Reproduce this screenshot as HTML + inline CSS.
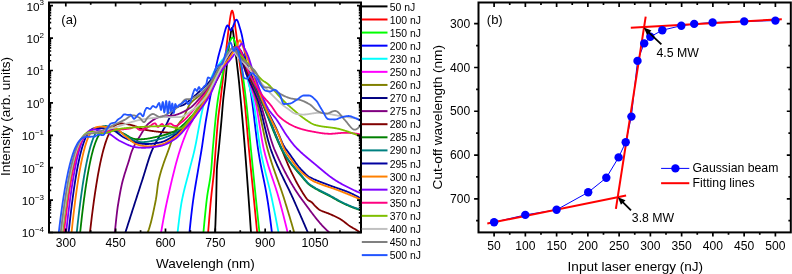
<!DOCTYPE html>
<html><head><meta charset="utf-8"><style>html,body{margin:0;padding:0;background:#fff;overflow:hidden}svg{display:block}#w{width:792px;height:274px;will-change:transform}</style></head><body><div id="w">
<svg width="792" height="274" viewBox="0 0 792 274">
<rect width="792" height="274" fill="#fff"/>
<defs><clipPath id="cl"><rect x="49.0" y="2.5" width="312.0" height="230.0"/></clipPath></defs>
<g clip-path="url(#cl)" fill="none" stroke-width="1.8" stroke-linejoin="round" stroke-linecap="round">
<path d="M214.90,234.00L215.40,224.85L215.90,210.17L216.20,200.00L216.40,189.88L216.80,170.00L216.90,168.42L217.40,162.06L217.90,157.32L218.40,152.96L218.70,150.00L218.90,147.87L219.40,142.57L219.90,137.29L220.40,131.98L220.90,126.61L221.40,121.12L221.50,120.00L221.90,115.32L222.40,109.18L222.90,103.24L223.20,100.00L223.40,98.02L223.90,93.58L224.40,89.51L224.90,85.45L225.40,80.98L225.50,80.00L225.90,75.72L226.40,69.87L226.90,64.10L227.30,60.00L227.40,59.07L227.90,54.59L228.40,50.37L228.90,46.42L229.40,42.74L229.80,40.00L229.90,39.32L230.40,35.74L230.90,32.26L231.40,29.49L231.90,28.07L232.00,28.00L232.40,28.54L232.90,30.71L233.40,33.99L233.90,37.76L234.20,40.00L234.40,41.50L234.90,45.60L235.40,50.04L235.90,54.62L236.40,59.12L236.50,60.00L236.90,63.43L237.40,67.66L237.90,71.91L238.40,76.31L238.80,80.00L238.90,80.96L239.40,85.99L239.90,91.30L240.40,96.74L240.70,100.00L240.90,102.17L241.40,107.63L241.90,113.19L242.40,118.85L242.50,120.00L242.90,124.63L243.40,130.49L243.90,136.46L244.40,142.53L244.90,148.74L245.00,150.00L245.40,155.10L245.90,161.61L246.40,168.24L246.90,174.97L247.40,181.77L247.90,188.63L248.00,190.00L248.40,195.52L248.90,202.49L249.40,209.54L249.90,216.66L250.40,223.84L250.90,231.08L251.10,234.00" stroke="#000000"/>
<path d="M208.00,234.00L208.50,227.71L209.00,221.58L209.50,215.63L210.00,209.86L210.50,204.29L210.90,200.00L211.00,198.96L211.50,194.08L212.00,189.61L212.50,185.30L213.00,180.93L213.50,176.28L214.00,171.11L214.10,170.00L214.50,165.07L215.00,158.20L215.50,151.31L215.60,150.00L216.00,144.74L216.50,138.03L217.00,131.48L217.50,125.37L218.00,120.00L218.50,115.46L219.00,111.46L219.50,107.73L220.00,104.00L220.50,100.00L221.00,95.76L221.50,91.47L222.00,87.15L222.50,82.80L223.00,78.43L223.50,74.05L224.00,69.66L224.50,65.26L225.00,60.88L225.10,60.00L225.50,56.42L226.00,51.81L226.50,47.13L227.00,42.50L227.50,38.03L228.00,33.83L228.50,30.00L229.00,26.32L229.50,22.62L230.00,19.10L230.50,15.95L231.00,13.37L231.50,11.56L232.00,10.72L232.20,10.70L232.50,11.03L233.00,12.45L233.50,14.75L234.00,17.74L234.50,21.18L235.00,24.86L235.50,28.56L235.70,30.00L236.00,32.19L236.50,36.10L237.00,40.24L237.50,44.54L238.00,48.91L238.50,53.27L239.00,57.53L239.30,60.00L239.50,61.61L240.00,65.52L240.50,69.32L241.00,73.05L241.50,76.75L242.00,80.46L242.50,84.24L243.00,88.13L243.50,92.18L244.00,96.43L244.40,100.00L244.50,100.92L245.00,105.77L245.50,110.96L246.00,116.39L246.50,122.01L247.00,127.72L247.50,133.45L248.00,139.13L248.50,144.67L249.00,150.00L249.50,155.14L250.00,160.20L250.50,165.19L251.00,170.14L251.50,175.07L252.00,180.01L252.50,184.98L253.00,190.00L253.50,195.07L254.00,200.15L254.50,205.24L255.00,210.34L255.50,215.46L256.00,220.59L256.50,225.74L257.00,230.90L257.30,234.00" stroke="#ff0000"/>
<path d="M203.30,234.00L203.80,228.43L204.30,223.03L204.80,217.81L205.30,212.80L205.80,208.00L206.30,203.45L206.70,200.00L206.80,199.17L207.30,195.41L207.80,192.16L208.30,189.23L208.80,186.47L209.30,183.70L209.80,180.74L210.30,177.42L210.80,173.57L211.20,170.00L211.30,168.98L211.80,162.52L212.30,155.19L212.70,150.00L212.80,148.87L213.30,143.23L213.80,137.62L214.30,132.09L214.80,126.70L215.30,121.50L215.80,116.53L216.30,111.84L216.80,107.49L217.30,103.53L217.80,100.00L218.30,96.85L218.80,93.93L219.30,91.20L219.80,88.60L220.30,86.08L220.80,83.57L221.30,81.04L221.50,80.00L221.80,78.43L222.30,75.78L222.80,73.13L223.30,70.50L223.80,67.91L224.30,65.39L224.80,62.95L225.00,62.00L225.30,60.59L225.80,58.22L226.30,55.88L226.80,53.58L227.30,51.37L227.80,49.29L228.30,47.36L228.80,45.63L229.00,45.00L229.30,44.07L229.80,42.53L230.30,41.05L230.80,39.72L231.30,38.63L231.80,37.87L232.30,37.51L232.50,37.50L232.80,37.63L233.30,38.19L233.80,39.10L234.30,40.27L234.80,41.61L235.30,43.03L235.80,44.45L236.00,45.00L236.30,45.83L236.80,47.33L237.30,48.96L237.80,50.71L238.30,52.58L238.80,54.56L239.30,56.64L239.80,58.81L240.30,61.07L240.50,62.00L240.80,63.45L241.30,66.08L241.80,68.95L242.30,72.05L242.80,75.35L243.30,78.84L243.80,82.49L244.30,86.29L244.80,90.21L245.30,94.23L245.80,98.34L246.00,100.00L246.30,102.56L246.80,107.06L247.30,111.81L247.80,116.77L248.30,121.88L248.80,127.09L249.30,132.36L249.80,137.63L250.30,142.86L250.80,147.99L251.00,150.00L251.30,153.00L251.80,158.03L252.30,163.06L252.80,168.10L253.30,173.12L253.80,178.13L254.30,183.10L254.80,188.04L255.00,190.00L255.30,192.93L255.80,197.80L256.30,202.64L256.80,207.46L257.30,212.25L257.80,217.03L258.30,221.77L258.80,226.50L259.30,231.19L259.60,234.00" stroke="#00ff00"/>
<path d="M189.30,234.00L189.80,229.15L190.30,224.38L190.80,219.72L191.30,215.21L191.80,210.87L192.30,206.76L192.80,202.89L193.20,200.00L193.30,199.31L193.80,195.92L194.30,192.67L194.80,189.53L195.30,186.48L195.80,183.50L196.30,180.56L196.80,177.64L197.30,174.73L197.80,171.78L198.10,170.00L198.30,168.81L198.80,165.88L199.30,162.99L199.80,160.11L200.30,157.21L200.80,154.27L201.30,151.24L201.50,150.00L201.80,148.10L202.30,144.81L202.80,141.41L203.30,137.95L203.80,134.47L204.30,131.01L204.80,127.62L205.30,124.33L205.80,121.20L206.00,120.00L206.30,118.24L206.80,115.37L207.30,112.56L207.80,109.81L208.30,107.12L208.80,104.47L209.30,101.86L209.80,99.27L210.30,96.70L210.80,94.14L211.30,91.59L211.80,89.03L212.00,88.00L212.30,86.45L212.80,83.84L213.30,81.22L213.80,78.59L214.30,75.96L214.80,73.36L215.30,70.79L215.80,68.26L216.30,65.79L216.80,63.39L217.30,61.08L217.80,58.86L218.00,58.00L218.30,56.75L218.80,54.76L219.30,52.86L219.80,51.02L220.30,49.24L220.80,47.48L221.30,45.71L221.50,45.00L221.80,43.90L222.30,41.94L222.80,39.89L223.30,37.78L223.80,35.67L224.30,33.62L224.80,31.68L225.30,29.90L225.80,28.33L226.30,27.02L226.80,26.03L227.20,25.50L227.30,25.42L227.80,25.44L228.30,26.06L228.80,27.04L229.30,28.19L229.80,29.28L230.30,30.11L230.80,30.45L231.00,30.40L231.30,30.16L231.80,29.46L232.30,28.46L232.80,27.23L233.30,25.87L233.80,24.46L234.30,23.09L234.80,21.84L235.30,20.81L235.80,20.06L236.30,19.70L236.80,19.82L237.30,20.42L237.80,21.42L238.30,22.72L238.80,24.25L239.30,25.92L239.80,27.65L240.30,29.35L240.50,30.00L240.80,31.01L241.30,32.91L241.80,35.05L242.30,37.40L242.80,39.96L243.30,42.70L243.70,45.00L243.80,45.60L244.30,48.93L244.80,52.68L245.30,56.69L245.80,60.79L246.30,64.82L246.80,68.60L247.00,70.00L247.30,72.01L247.80,75.21L248.30,78.25L248.80,81.18L249.30,84.06L249.80,86.92L250.30,89.83L250.80,92.83L251.30,95.98L251.80,99.31L251.90,100.00L252.30,102.87L252.80,106.66L253.30,110.62L253.80,114.72L254.30,118.91L254.80,123.16L255.30,127.41L255.80,131.62L256.30,135.76L256.80,139.77L257.30,143.62L257.80,147.26L258.20,150.00L258.30,150.66L258.80,153.85L259.30,156.87L259.80,159.75L260.30,162.51L260.80,165.17L261.30,167.73L261.80,170.23L262.30,172.69L262.80,175.11L263.30,177.52L263.80,179.94L264.30,182.39L264.80,184.89L265.30,187.45L265.80,190.10L266.30,192.86L266.80,195.73L267.30,198.75L267.50,200.00L267.80,201.92L268.30,205.24L268.80,208.68L269.30,212.24L269.80,215.92L270.30,219.70L270.80,223.57L271.30,227.52L271.80,231.55L272.10,234.00" stroke="#0000ff"/>
<path d="M177.40,234.00L177.90,229.70L178.40,225.44L178.90,221.26L179.40,217.21L179.90,213.33L180.40,209.68L180.90,206.29L181.40,203.22L181.90,200.50L182.00,200.00L182.40,198.08L182.90,195.77L183.40,193.54L183.90,191.39L184.40,189.32L184.90,187.29L185.40,185.32L185.90,183.38L186.40,181.47L186.90,179.58L187.40,177.69L187.90,175.80L188.40,173.90L188.90,171.97L189.40,170.00L189.90,168.04L190.40,166.13L190.90,164.24L191.40,162.36L191.90,160.48L192.40,158.58L192.90,156.65L193.40,154.65L193.90,152.59L194.40,150.44L194.50,150.00L194.90,148.18L195.40,145.80L195.90,143.31L196.40,140.74L196.90,138.10L197.40,135.41L197.90,132.69L198.40,129.96L198.90,127.25L199.40,124.56L199.90,121.91L200.40,119.34L200.90,116.85L201.40,114.46L201.50,114.00L201.90,112.16L202.40,109.88L202.90,107.61L203.40,105.39L203.90,103.21L204.40,101.08L204.90,99.02L205.40,97.04L205.90,95.15L206.40,93.36L206.80,92.00L206.90,91.67L207.40,90.02L207.90,88.38L208.40,86.76L208.90,85.17L209.40,83.60L209.90,82.08L210.40,80.60L210.90,79.17L211.40,77.81L211.90,76.52L212.40,75.30L212.90,74.16L213.40,73.12L213.90,72.18L214.00,72.00L214.40,71.31L214.90,70.47L215.40,69.65L215.90,68.85L216.40,68.07L216.90,67.31L217.40,66.56L217.90,65.84L218.40,65.13L218.90,64.43L219.40,63.75L219.90,63.09L220.40,62.43L220.90,61.79L221.40,61.16L221.90,60.53L222.40,59.92L222.90,59.31L223.40,58.71L223.90,58.12L224.00,58.00L224.40,57.52L224.90,56.92L225.40,56.31L225.90,55.69L226.40,55.08L226.90,54.47L227.40,53.86L227.90,53.26L228.40,52.68L228.90,52.11L229.40,51.56L229.90,51.03L230.40,50.53L230.90,50.06L231.40,49.62L231.90,49.22L232.40,48.86L232.90,48.54L233.40,48.26L233.90,48.04L234.00,48.00L234.40,47.90L234.90,47.91L235.40,48.07L235.90,48.37L236.40,48.79L236.90,49.33L237.40,49.98L237.90,50.73L238.40,51.57L238.90,52.49L239.40,53.49L239.90,54.55L240.40,55.67L240.90,56.83L241.40,58.03L241.90,59.25L242.40,60.50L242.90,61.75L243.00,62.00L243.40,63.07L243.90,64.60L244.40,66.29L244.90,68.14L245.40,70.10L245.90,72.14L246.40,74.24L246.90,76.38L247.40,78.51L247.90,80.61L248.40,82.66L248.90,84.62L249.00,85.00L249.40,86.46L249.90,88.20L250.40,89.87L250.90,91.53L251.40,93.23L251.90,95.02L252.40,96.96L252.90,99.08L253.10,100.00L253.40,101.47L253.90,104.20L254.40,107.23L254.90,110.51L255.40,114.00L255.90,117.64L256.40,121.40L256.90,125.21L257.40,129.03L257.90,132.82L258.40,136.51L258.90,140.08L259.40,143.46L259.90,146.60L260.40,149.47L260.50,150.00L260.90,152.08L261.40,154.59L261.90,157.02L262.40,159.37L262.90,161.64L263.40,163.85L263.90,166.00L264.40,168.10L264.90,170.16L265.40,172.19L265.90,174.20L266.40,176.18L266.90,178.15L267.40,180.13L267.90,182.10L268.40,184.09L268.90,186.11L269.40,188.15L269.90,190.22L270.40,192.35L270.90,194.52L271.40,196.76L271.90,199.06L272.10,200.00L272.40,201.43L272.90,203.82L273.40,206.25L273.90,208.69L274.40,211.17L274.90,213.66L275.40,216.19L275.90,218.73L276.40,221.30L276.90,223.90L277.40,226.52L277.90,229.17L278.40,231.84L278.80,234.00" stroke="#00ffff"/>
<path d="M160.80,234.00L161.30,231.13L161.80,228.29L162.30,225.47L162.80,222.69L163.30,219.96L163.80,217.26L164.30,214.61L164.80,212.02L165.30,209.48L165.80,207.01L166.30,204.60L166.80,202.26L167.30,200.00L167.80,197.78L168.30,195.57L168.80,193.36L169.30,191.17L169.80,188.99L170.30,186.82L170.80,184.67L171.30,182.53L171.80,180.41L172.30,178.32L172.80,176.24L173.30,174.20L173.80,172.17L174.30,170.18L174.80,168.22L175.30,166.28L175.80,164.38L176.30,162.52L176.80,160.69L177.30,158.90L177.80,157.16L178.30,155.45L178.80,153.79L179.30,152.18L179.80,150.61L180.00,150.00L180.30,149.09L180.80,147.60L181.30,146.13L181.80,144.68L182.30,143.26L182.80,141.87L183.30,140.50L183.80,139.16L184.30,137.85L184.80,136.57L185.30,135.31L185.80,134.09L186.30,132.89L186.80,131.72L187.30,130.59L187.80,129.48L188.30,128.41L188.40,128.20L188.80,127.38L189.30,126.39L189.80,125.44L190.30,124.51L190.80,123.59L191.30,122.68L191.80,121.76L192.20,121.00L192.30,120.81L192.80,119.85L193.30,118.89L193.80,117.93L194.30,116.97L194.80,116.01L195.30,115.04L195.80,114.08L196.30,113.11L196.80,112.15L197.30,111.19L197.80,110.22L198.30,109.26L198.80,108.30L199.30,107.34L199.80,106.38L200.00,106.00L200.30,105.43L200.80,104.47L201.30,103.51L201.80,102.55L202.30,101.58L202.80,100.62L203.30,99.66L203.80,98.70L204.30,97.73L204.80,96.78L205.30,95.82L205.80,94.86L206.30,93.91L206.80,92.96L207.30,92.02L207.80,91.08L208.30,90.14L208.80,89.21L209.30,88.28L209.80,87.37L210.00,87.00L210.30,86.45L210.80,85.54L211.30,84.63L211.80,83.72L212.30,82.82L212.80,81.92L213.30,81.02L213.80,80.12L214.30,79.22L214.80,78.33L215.30,77.44L215.80,76.56L216.30,75.68L216.80,74.80L217.30,73.93L217.80,73.07L218.30,72.20L218.80,71.35L219.30,70.50L219.80,69.65L220.30,68.81L220.80,67.98L221.30,67.15L221.80,66.33L222.00,66.00L222.30,65.51L222.80,64.66L223.30,63.78L223.80,62.89L224.30,61.97L224.80,61.05L225.30,60.12L225.80,59.18L226.30,58.25L226.80,57.33L227.30,56.41L227.80,55.51L228.30,54.63L228.80,53.78L229.30,52.95L229.80,52.16L230.30,51.41L230.80,50.70L231.30,50.04L231.80,49.43L232.30,48.87L232.80,48.38L233.30,47.96L233.80,47.60L234.30,47.32L234.80,47.12L235.30,47.01L235.80,46.98L236.00,47.00L236.30,47.08L236.80,47.41L237.30,47.97L237.80,48.74L238.30,49.69L238.80,50.81L239.30,52.07L239.80,53.45L240.30,54.94L240.80,56.51L241.30,58.13L241.80,59.80L242.30,61.48L242.80,63.16L243.30,64.82L243.80,66.44L244.30,67.98L244.80,69.44L245.00,70.00L245.30,70.82L245.80,72.17L246.30,73.51L246.80,74.86L247.30,76.20L247.80,77.54L248.30,78.90L248.80,80.27L249.30,81.65L249.80,83.06L250.30,84.49L250.80,85.95L251.30,87.45L251.80,88.99L252.30,90.56L252.80,92.19L253.30,93.86L253.80,95.59L254.30,97.39L254.80,99.24L255.00,100.00L255.30,101.20L255.80,103.39L256.30,105.81L256.80,108.42L257.30,111.20L257.80,114.11L258.30,117.13L258.80,120.23L259.30,123.38L259.80,126.55L260.30,129.71L260.80,132.84L261.30,135.89L261.80,138.85L262.30,141.69L262.80,144.37L263.30,146.87L263.80,149.15L264.00,150.00L264.30,151.23L264.80,153.23L265.30,155.16L265.80,157.04L266.30,158.86L266.80,160.63L267.30,162.35L267.80,164.03L268.30,165.67L268.80,167.28L269.30,168.86L269.80,170.40L270.30,171.93L270.80,173.43L271.30,174.93L271.80,176.41L272.30,177.88L272.80,179.35L273.30,180.82L273.80,182.30L274.30,183.78L274.80,185.28L275.30,186.79L275.80,188.33L276.30,189.89L276.80,191.48L277.30,193.10L277.80,194.76L278.30,196.46L278.80,198.21L279.30,200.00L279.80,201.83L280.30,203.67L280.80,205.53L281.30,207.40L281.80,209.29L282.30,211.19L282.80,213.11L283.30,215.04L283.80,216.99L284.30,218.96L284.80,220.94L285.30,222.94L285.80,224.95L286.30,226.98L286.80,229.02L287.30,231.09L287.80,233.16L288.00,234.00" stroke="#ff00ff"/>
<path d="M146.90,234.00L147.40,233.06L147.90,231.96L148.40,230.70L148.90,229.30L149.40,227.76L149.90,226.10L150.40,224.32L150.90,222.43L151.40,220.44L151.90,218.36L152.40,216.19L152.90,213.95L153.40,211.65L153.90,209.30L154.40,206.90L154.90,204.46L155.40,201.99L155.80,200.00L155.90,199.48L156.40,196.31L156.90,192.51L157.40,188.48L157.90,184.66L158.40,181.45L158.70,180.00L158.90,179.18L159.40,177.20L159.90,175.31L160.40,173.49L160.90,171.75L161.40,170.08L161.90,168.47L162.40,166.92L162.90,165.41L163.40,163.95L163.90,162.52L164.40,161.12L164.90,159.75L165.40,158.39L165.90,157.05L166.40,155.71L166.90,154.37L167.40,153.02L167.90,151.66L168.40,150.28L168.50,150.00L168.90,148.87L169.40,147.44L169.90,145.99L170.40,144.53L170.90,143.05L171.40,141.58L171.90,140.11L172.40,138.66L172.90,137.22L173.40,135.80L173.90,134.41L174.40,133.06L174.90,131.75L175.40,130.48L175.90,129.27L176.40,128.11L176.90,127.02L177.40,126.00L177.90,125.07L178.40,124.24L178.90,123.49L179.40,122.80L179.90,122.16L180.40,121.55L180.90,120.95L181.40,120.35L181.90,119.73L182.40,119.07L182.90,118.36L183.40,117.58L183.80,116.90L183.90,116.72L184.40,115.75L184.90,114.70L185.40,113.59L185.90,112.43L186.40,111.25L186.90,110.07L187.40,108.90L187.90,107.78L188.40,106.72L188.90,105.75L189.40,104.88L189.90,104.13L190.00,104.00L190.40,103.50L190.90,102.91L191.40,102.35L191.90,101.84L192.40,101.35L192.90,100.89L193.40,100.45L193.90,100.03L194.40,99.63L194.90,99.23L195.40,98.85L195.90,98.47L196.40,98.09L196.90,97.70L197.40,97.31L197.90,96.91L198.40,96.49L198.90,96.05L199.40,95.59L199.90,95.10L200.00,95.00L200.40,94.59L200.90,94.09L201.40,93.58L201.90,93.07L202.40,92.56L202.90,92.05L203.40,91.53L203.90,91.01L204.40,90.48L204.90,89.95L205.40,89.42L205.90,88.87L206.40,88.32L206.90,87.75L207.40,87.18L207.90,86.59L208.40,86.00L208.90,85.39L209.40,84.77L209.90,84.13L210.00,84.00L210.40,83.47L210.90,82.77L211.40,82.05L211.90,81.29L212.40,80.51L212.90,79.70L213.40,78.88L213.90,78.04L214.40,77.19L214.90,76.34L215.40,75.48L215.90,74.62L216.40,73.76L216.90,72.91L217.40,72.07L217.90,71.24L218.40,70.43L218.90,69.64L219.40,68.88L219.90,68.14L220.00,68.00L220.40,67.43L220.90,66.70L221.40,65.96L221.90,65.21L222.40,64.46L222.90,63.70L223.40,62.95L223.90,62.19L224.40,61.44L224.90,60.69L225.40,59.95L225.90,59.22L226.40,58.51L226.90,57.80L227.40,57.12L227.90,56.45L228.40,55.80L228.90,55.17L229.40,54.57L229.90,54.00L230.40,53.45L230.90,52.94L231.40,52.46L231.90,52.01L232.40,51.60L232.90,51.23L233.40,50.91L233.90,50.63L234.40,50.39L234.90,50.21L235.40,50.07L235.90,49.99L236.40,49.96L236.90,49.99L237.00,50.00L237.40,50.11L237.90,50.41L238.40,50.86L238.90,51.46L239.40,52.20L239.90,53.06L240.40,54.04L240.90,55.12L241.40,56.30L241.90,57.55L242.40,58.87L242.90,60.25L243.40,61.68L243.90,63.14L244.40,64.63L244.90,66.13L245.40,67.62L245.90,69.11L246.40,70.58L246.90,72.02L247.40,73.41L247.90,74.74L248.00,75.00L248.40,76.04L248.90,77.35L249.40,78.67L249.90,80.02L250.40,81.38L250.90,82.77L251.40,84.18L251.90,85.62L252.40,87.09L252.90,88.58L253.40,90.11L253.90,91.66L254.40,93.26L254.90,94.88L255.40,96.55L255.90,98.25L256.40,100.00L256.90,101.82L257.40,103.74L257.90,105.76L258.40,107.85L258.90,110.02L259.40,112.25L259.90,114.53L260.40,116.85L260.90,119.21L261.40,121.60L261.90,123.99L262.40,126.40L262.90,128.79L263.40,131.17L263.90,133.53L264.40,135.85L264.90,138.13L265.40,140.36L265.90,142.52L266.40,144.61L266.90,146.62L267.40,148.54L267.80,150.00L267.90,150.36L268.40,152.11L268.90,153.83L269.40,155.51L269.90,157.16L270.40,158.77L270.90,160.36L271.40,161.92L271.90,163.45L272.40,164.96L272.90,166.45L273.40,167.92L273.90,169.37L274.40,170.81L274.90,172.24L275.40,173.65L275.90,175.06L276.40,176.45L276.90,177.85L277.40,179.24L277.90,180.63L278.40,182.03L278.90,183.43L279.40,184.83L279.90,186.25L280.40,187.67L280.90,189.10L281.40,190.55L281.90,192.02L282.40,193.51L282.90,195.01L283.40,196.54L283.90,198.10L284.40,199.68L284.50,200.00L284.90,201.28L285.40,202.90L285.90,204.52L286.40,206.14L286.90,207.78L287.40,209.42L287.90,211.07L288.40,212.73L288.90,214.40L289.40,216.08L289.90,217.76L290.40,219.45L290.90,221.15L291.40,222.86L291.90,224.58L292.40,226.31L292.90,228.04L293.40,229.78L293.90,231.53L294.40,233.29L294.60,234.00" stroke="#808000"/>
<path d="M124.90,234.00L125.40,232.43L125.90,230.86L126.40,229.30L126.90,227.73L127.40,226.17L127.90,224.60L128.40,223.04L128.90,221.48L129.40,219.92L129.90,218.36L130.40,216.80L130.90,215.24L131.40,213.68L131.90,212.13L132.40,210.57L132.90,209.02L133.40,207.47L133.90,205.92L134.40,204.37L134.90,202.82L135.40,201.27L135.90,199.72L136.40,198.17L136.90,196.63L137.40,195.08L137.90,193.54L138.40,192.00L138.90,190.46L139.40,188.92L139.90,187.38L140.40,185.84L140.90,184.30L141.40,182.76L141.90,181.23L142.30,180.00L142.40,179.69L142.90,178.13L143.40,176.55L143.90,174.94L144.40,173.31L144.90,171.68L145.40,170.03L145.90,168.39L146.40,166.75L146.90,165.12L147.40,163.51L147.90,161.92L148.40,160.36L148.90,158.84L149.40,157.35L149.90,155.90L150.40,154.51L150.90,153.17L151.40,151.90L151.90,150.69L152.20,150.00L152.40,149.55L152.90,148.45L153.40,147.39L153.90,146.35L154.40,145.34L154.90,144.36L155.40,143.40L155.90,142.46L156.40,141.54L156.90,140.64L157.40,139.76L157.90,138.89L158.40,138.03L158.90,137.18L159.40,136.34L159.90,135.51L160.40,134.68L160.90,133.85L161.40,133.02L161.90,132.19L162.40,131.36L162.90,130.52L163.40,129.68L163.90,128.82L164.40,127.96L164.90,127.08L165.40,126.18L165.50,126.00L165.90,125.26L166.40,124.30L166.90,123.30L167.40,122.28L167.90,121.24L168.40,120.18L168.90,119.13L169.40,118.07L169.90,117.03L170.40,116.00L170.90,115.00L171.40,114.03L171.90,113.11L172.40,112.23L172.90,111.40L173.40,110.64L173.90,109.94L174.40,109.33L174.90,108.80L175.00,108.70L175.40,108.34L175.90,107.95L176.40,107.60L176.90,107.30L177.40,107.03L177.90,106.80L178.40,106.59L178.90,106.41L179.40,106.25L179.90,106.10L180.40,105.95L180.90,105.81L181.40,105.66L181.90,105.50L182.40,105.33L182.90,105.14L183.40,104.92L183.90,104.68L184.40,104.39L184.90,104.07L185.00,104.00L185.40,103.71L185.90,103.34L186.40,102.96L186.90,102.57L187.40,102.17L187.90,101.76L188.40,101.35L188.90,100.93L189.40,100.51L189.90,100.08L190.00,100.00L190.40,99.66L190.90,99.23L191.40,98.80L191.90,98.37L192.40,97.93L192.90,97.49L193.40,97.04L193.90,96.60L194.40,96.15L194.90,95.70L195.40,95.25L195.90,94.79L196.40,94.34L196.90,93.88L197.40,93.42L197.90,92.95L198.40,92.49L198.90,92.03L199.40,91.56L199.90,91.09L200.00,91.00L200.40,90.63L200.90,90.16L201.40,89.70L201.90,89.24L202.40,88.77L202.90,88.31L203.40,87.84L203.90,87.37L204.40,86.90L204.90,86.41L205.40,85.93L205.90,85.43L206.40,84.93L206.90,84.42L207.40,83.90L207.90,83.37L208.40,82.83L208.90,82.27L209.40,81.70L209.90,81.12L210.00,81.00L210.40,80.51L210.90,79.87L211.40,79.20L211.90,78.50L212.40,77.77L212.90,77.03L213.40,76.26L213.90,75.48L214.40,74.69L214.90,73.89L215.40,73.08L215.90,72.27L216.40,71.47L216.90,70.66L217.40,69.87L217.90,69.09L218.40,68.32L218.90,67.57L219.40,66.84L219.90,66.14L220.00,66.00L220.40,65.44L220.90,64.73L221.40,63.99L221.90,63.24L222.40,62.48L222.90,61.71L223.40,60.93L223.90,60.15L224.40,59.37L224.90,58.59L225.40,57.82L225.90,57.06L226.40,56.31L226.90,55.58L227.40,54.87L227.90,54.18L228.40,53.52L228.90,52.88L229.40,52.28L229.90,51.72L230.40,51.20L230.90,50.72L231.40,50.28L231.90,49.89L232.40,49.56L232.90,49.28L233.40,49.06L233.90,48.91L234.40,48.81L234.90,48.79L235.40,48.84L235.90,48.97L236.00,49.00L236.40,49.20L236.90,49.59L237.40,50.14L237.90,50.84L238.40,51.67L238.90,52.61L239.40,53.67L239.90,54.83L240.40,56.07L240.90,57.39L241.40,58.78L241.90,60.22L242.40,61.71L242.90,63.23L243.40,64.77L243.90,66.32L244.40,67.87L244.90,69.41L245.40,70.92L245.90,72.40L246.40,73.84L246.90,75.22L247.40,76.53L247.90,77.76L248.00,78.00L248.40,78.93L248.90,80.06L249.40,81.16L249.90,82.25L250.40,83.31L250.90,84.37L251.40,85.41L251.90,86.46L252.40,87.50L252.90,88.56L253.40,89.63L253.90,90.71L254.40,91.81L254.90,92.95L255.40,94.11L255.90,95.31L256.40,96.55L256.90,97.83L257.40,99.17L257.70,100.00L257.90,100.57L258.40,102.06L258.90,103.66L259.40,105.34L259.90,107.11L260.40,108.95L260.90,110.85L261.40,112.81L261.90,114.83L262.40,116.88L262.90,118.96L263.40,121.07L263.90,123.19L264.40,125.31L264.90,127.44L265.40,129.55L265.90,131.65L266.40,133.72L266.90,135.75L267.40,137.74L267.90,139.68L268.40,141.55L268.90,143.36L269.40,145.09L269.90,146.73L270.40,148.28L270.90,149.72L271.00,150.00L271.40,151.09L271.90,152.42L272.40,153.74L272.90,155.03L273.40,156.30L273.90,157.54L274.40,158.77L274.90,159.98L275.40,161.17L275.90,162.35L276.40,163.51L276.90,164.65L277.40,165.78L277.90,166.89L278.40,167.99L278.90,169.08L279.40,170.16L279.90,171.23L280.40,172.28L280.90,173.33L281.40,174.38L281.90,175.41L282.40,176.44L282.90,177.46L283.40,178.48L283.90,179.50L284.40,180.51L284.90,181.53L285.40,182.54L285.90,183.55L286.40,184.56L286.90,185.58L287.40,186.59L287.90,187.61L288.40,188.64L288.90,189.67L289.40,190.71L289.90,191.75L290.40,192.80L290.90,193.86L291.40,194.93L291.90,196.01L292.40,197.10L292.90,198.21L293.40,199.32L293.70,200.00L293.90,200.45L294.40,201.59L294.90,202.72L295.40,203.85L295.90,204.99L296.40,206.12L296.90,207.26L297.40,208.40L297.90,209.54L298.40,210.68L298.90,211.82L299.40,212.96L299.90,214.11L300.40,215.25L300.90,216.40L301.40,217.54L301.90,218.69L302.40,219.84L302.90,220.99L303.40,222.15L303.90,223.30L304.40,224.46L304.90,225.61L305.40,226.77L305.90,227.93L306.40,229.10L306.90,230.26L307.40,231.43L307.90,232.60L308.40,233.77L308.50,234.00" stroke="#000080"/>
<path d="M114.70,234.00L115.20,228.95L115.70,224.00L116.20,219.24L116.70,214.76L117.20,210.64L117.70,206.96L118.00,205.00L118.20,203.77L118.70,200.74L119.20,197.81L119.70,194.98L120.20,192.26L120.70,189.66L121.20,187.20L121.70,184.89L122.20,182.73L122.70,180.75L122.90,180.00L123.20,178.92L123.70,177.17L124.20,175.48L124.70,173.84L125.20,172.24L125.70,170.67L126.20,169.12L126.70,167.58L127.20,166.05L127.70,164.51L128.20,162.95L128.50,162.00L128.70,161.36L129.20,159.69L129.70,157.98L130.20,156.27L130.70,154.60L131.20,153.01L131.70,151.54L132.20,150.24L132.30,150.00L132.70,149.09L133.20,147.99L133.70,146.94L134.20,145.92L134.70,144.95L135.20,144.01L135.70,143.10L136.20,142.22L136.70,141.36L137.20,140.52L137.70,139.70L138.20,138.89L138.70,138.08L139.20,137.28L139.70,136.48L140.00,136.00L140.20,135.68L140.70,134.85L141.20,134.01L141.70,133.15L142.20,132.29L142.70,131.44L143.20,130.58L143.70,129.75L144.20,128.93L144.70,128.13L145.20,127.37L145.70,126.65L146.20,125.97L146.70,125.35L147.20,124.78L147.70,124.27L148.00,124.00L148.20,123.83L148.70,123.41L149.20,122.99L149.70,122.59L150.20,122.19L150.70,121.80L151.20,121.42L151.70,121.06L152.20,120.70L152.70,120.36L153.20,120.02L153.70,119.70L154.20,119.40L154.70,119.10L155.20,118.82L155.70,118.55L156.20,118.30L156.70,118.06L157.20,117.84L157.70,117.63L158.20,117.44L158.70,117.27L159.20,117.11L159.70,116.97L160.00,116.90L160.20,116.85L160.70,116.75L161.20,116.65L161.70,116.56L162.20,116.49L162.70,116.42L163.20,116.36L163.70,116.30L164.20,116.26L164.70,116.22L165.20,116.18L165.70,116.15L166.20,116.12L166.70,116.09L167.20,116.06L167.70,116.03L168.20,116.00L168.70,115.97L169.20,115.94L169.70,115.90L170.20,115.86L170.70,115.82L171.20,115.77L171.70,115.71L172.20,115.64L172.70,115.57L173.20,115.49L173.70,115.40L174.20,115.29L174.70,115.18L175.00,115.10L175.20,115.05L175.70,114.91L176.20,114.76L176.70,114.61L177.20,114.45L177.70,114.28L178.20,114.10L178.70,113.92L179.20,113.73L179.70,113.53L180.20,113.32L180.70,113.11L181.20,112.88L181.70,112.66L182.20,112.42L182.70,112.18L183.20,111.94L183.70,111.68L184.20,111.42L184.70,111.16L185.20,110.88L185.70,110.61L186.20,110.32L186.70,110.04L187.20,109.74L187.70,109.44L188.20,109.14L188.70,108.83L189.20,108.51L189.70,108.19L190.00,108.00L190.20,107.87L190.70,107.52L191.20,107.14L191.70,106.73L192.20,106.30L192.70,105.85L193.20,105.38L193.70,104.89L194.20,104.38L194.70,103.86L195.20,103.33L195.70,102.79L196.20,102.23L196.70,101.68L197.20,101.12L197.70,100.56L198.20,99.99L198.70,99.43L199.20,98.88L199.70,98.33L200.00,98.00L200.20,97.78L200.70,97.24L201.20,96.69L201.70,96.14L202.20,95.58L202.70,95.02L203.20,94.45L203.70,93.88L204.20,93.30L204.70,92.71L205.20,92.12L205.70,91.51L206.20,90.91L206.70,90.29L207.20,89.67L207.70,89.03L208.20,88.39L208.70,87.74L209.20,87.08L209.70,86.41L210.00,86.00L210.20,85.72L210.70,85.02L211.20,84.28L211.70,83.52L212.20,82.74L212.70,81.94L213.20,81.12L213.70,80.29L214.20,79.46L214.70,78.61L215.20,77.77L215.70,76.92L216.20,76.07L216.70,75.23L217.20,74.39L217.70,73.57L218.20,72.76L218.70,71.97L219.20,71.19L219.70,70.44L220.00,70.00L220.20,69.71L220.70,68.96L221.20,68.20L221.70,67.42L222.20,66.63L222.70,65.83L223.20,65.02L223.70,64.20L224.20,63.38L224.70,62.56L225.20,61.74L225.70,60.93L226.20,60.12L226.70,59.33L227.20,58.55L227.70,57.78L228.20,57.04L228.70,56.31L229.20,55.61L229.70,54.93L230.20,54.29L230.70,53.67L231.20,53.09L231.70,52.55L232.20,52.05L232.70,51.59L233.20,51.17L233.70,50.80L234.20,50.48L234.70,50.22L235.20,50.01L235.70,49.86L236.20,49.77L236.70,49.75L237.20,49.79L237.70,49.90L238.00,50.00L238.20,50.09L238.70,50.42L239.20,50.90L239.70,51.51L240.20,52.26L240.70,53.12L241.20,54.08L241.70,55.15L242.20,56.30L242.70,57.53L243.20,58.83L243.70,60.19L244.20,61.59L244.70,63.03L245.20,64.50L245.70,65.98L246.20,67.47L246.70,68.96L247.20,70.44L247.70,71.89L248.20,73.31L248.70,74.69L249.20,76.01L249.70,77.28L250.00,78.00L250.20,78.47L250.70,79.64L251.20,80.80L251.70,81.95L252.20,83.10L252.70,84.24L253.20,85.38L253.70,86.53L254.20,87.68L254.70,88.83L255.20,90.00L255.70,91.18L256.20,92.37L256.70,93.59L257.20,94.82L257.70,96.07L258.20,97.35L258.70,98.66L259.20,100.00L259.70,101.38L260.20,102.83L260.70,104.32L261.20,105.87L261.70,107.46L262.20,109.09L262.70,110.75L263.20,112.45L263.70,114.17L264.20,115.92L264.70,117.68L265.20,119.46L265.70,121.25L266.20,123.04L266.70,124.83L267.20,126.62L267.70,128.40L268.20,130.17L268.70,131.92L269.20,133.65L269.70,135.35L270.20,137.03L270.70,138.66L271.20,140.26L271.70,141.82L272.20,143.33L272.70,144.79L273.20,146.18L273.70,147.52L274.20,148.80L274.70,150.00L275.20,151.16L275.70,152.31L276.20,153.45L276.70,154.59L277.20,155.71L277.70,156.82L278.20,157.92L278.70,159.01L279.20,160.09L279.70,161.16L280.20,162.22L280.70,163.27L281.20,164.31L281.70,165.34L282.20,166.36L282.70,167.37L283.20,168.38L283.70,169.37L284.20,170.35L284.70,171.33L285.20,172.29L285.70,173.25L286.20,174.19L286.70,175.13L287.20,176.05L287.70,176.97L288.20,177.88L288.70,178.78L289.20,179.67L289.70,180.56L290.20,181.43L290.70,182.29L291.20,183.15L291.70,184.00L292.20,184.83L292.70,185.66L293.20,186.49L293.70,187.30L294.20,188.10L294.70,188.90L295.20,189.69L295.70,190.47L296.20,191.24L296.70,192.00L297.20,192.75L297.70,193.50L298.20,194.24L298.70,194.97L299.20,195.69L299.70,196.41L300.20,197.11L300.70,197.81L301.20,198.51L301.70,199.19L302.20,199.87L302.30,200.00L302.70,200.54L303.20,201.21L303.70,201.89L304.20,202.56L304.70,203.24L305.20,203.92L305.70,204.59L306.20,205.27L306.70,205.95L307.20,206.63L307.70,207.30L308.20,207.98L308.70,208.65L309.20,209.33L309.70,210.00L310.20,210.67L310.70,211.34L311.20,212.00L311.70,212.67L312.20,213.33L312.70,213.98L313.20,214.64L313.70,215.29L314.20,215.93L314.70,216.57L315.20,217.21L315.70,217.84L316.20,218.47L316.70,219.10L317.20,219.71L317.70,220.32L318.20,220.93L318.70,221.53L319.20,222.12L319.70,222.71L320.20,223.29L320.70,223.86L321.20,224.43L321.70,224.99L322.20,225.54L322.70,226.08L323.20,226.61L323.70,227.13L324.20,227.65L324.70,228.16L325.20,228.65L325.70,229.14L326.20,229.62L326.70,230.08L327.20,230.54L327.70,230.99L328.20,231.42L328.70,231.85L329.20,232.26L329.70,232.66L330.20,233.05L330.70,233.42L331.20,233.79L331.50,234.00" stroke="#800080"/>
<path d="M89.80,234.00L90.30,229.60L90.80,225.28L91.30,221.07L91.80,216.97L92.09,214.63L92.30,213.00L92.80,209.13L93.30,205.34L93.80,201.67L94.30,198.11L94.39,197.51L94.80,194.66L95.30,191.29L95.80,188.02L96.30,184.85L96.68,182.53L96.80,181.80L97.30,178.83L97.80,175.94L98.30,173.15L98.80,170.47L98.97,169.57L99.30,167.88L99.80,165.37L100.30,162.94L100.80,160.61L101.26,158.53L101.30,158.38L101.80,156.23L102.30,154.14L102.80,152.14L103.30,150.23L103.56,149.29L103.80,148.42L104.30,146.67L104.80,144.99L105.30,143.38L105.80,141.87L105.85,141.73L106.30,140.44L106.80,139.06L107.30,137.74L107.80,136.50L108.14,135.71L108.30,135.36L108.80,134.26L109.30,133.21L109.80,132.23L110.30,131.33L110.44,131.10L110.80,130.50L111.30,129.71L111.80,128.96L112.30,128.28L112.73,127.75L112.80,127.67L113.30,127.11L113.80,126.58L114.30,126.10L114.80,125.68L115.02,125.51L115.30,125.32L115.80,124.98L116.30,124.67L116.80,124.41L117.30,124.21L117.31,124.20L117.80,124.04L118.30,123.89L118.80,123.76L119.30,123.66L119.61,123.62L119.80,123.59L120.30,123.55L120.80,123.51L121.30,123.49L121.80,123.50L121.90,123.50L122.30,123.52L122.80,123.56L123.30,123.60L123.80,123.65L124.30,123.71L124.80,123.78L125.30,123.85L125.80,123.92L126.30,124.01L126.80,124.10L127.30,124.19L127.80,124.29L128.30,124.39L128.80,124.50L129.30,124.61L129.80,124.72L130.30,124.84L130.80,124.96L131.30,125.08L131.80,125.20L132.30,125.32L132.80,125.45L133.00,125.50L133.30,125.58L133.80,125.72L134.30,125.88L134.80,126.06L135.30,126.24L135.80,126.44L136.30,126.64L136.80,126.85L137.30,127.07L137.80,127.29L138.30,127.51L138.80,127.72L139.30,127.94L139.80,128.15L140.30,128.36L140.80,128.56L141.30,128.75L141.80,128.93L142.30,129.10L142.80,129.25L143.30,129.38L143.80,129.50L144.30,129.61L144.80,129.71L145.30,129.81L145.80,129.91L146.30,130.01L146.80,130.10L147.30,130.20L147.80,130.29L148.30,130.38L148.80,130.46L149.30,130.55L149.80,130.63L150.30,130.71L150.80,130.79L151.30,130.87L151.80,130.94L152.30,131.01L152.80,131.09L153.30,131.16L153.80,131.22L154.30,131.29L154.80,131.36L155.30,131.42L155.80,131.48L156.30,131.54L156.80,131.60L157.30,131.66L157.80,131.72L158.30,131.77L158.80,131.82L159.30,131.88L159.80,131.93L160.30,131.98L160.80,132.03L161.30,132.08L161.80,132.12L162.30,132.17L162.80,132.21L163.30,132.26L163.80,132.30L164.30,132.34L164.80,132.38L165.00,132.40L165.30,132.42L165.80,132.46L166.30,132.48L166.80,132.51L167.30,132.52L167.80,132.53L168.30,132.54L168.80,132.54L169.30,132.53L169.80,132.52L170.30,132.50L170.80,132.48L171.30,132.46L171.80,132.43L172.30,132.40L172.80,132.36L173.30,132.32L173.80,132.28L174.30,132.23L174.80,132.18L175.30,132.12L175.80,132.07L176.30,132.01L176.80,131.95L177.30,131.88L177.80,131.82L178.30,131.75L178.80,131.68L179.30,131.60L179.80,131.53L180.00,131.50L180.30,131.45L180.80,131.31L181.30,131.13L181.80,130.90L182.30,130.62L182.80,130.30L183.30,129.95L183.80,129.56L184.30,129.13L184.80,128.68L185.30,128.20L185.80,127.70L186.30,127.18L186.80,126.64L187.30,126.09L187.80,125.53L188.30,124.96L188.80,124.38L189.30,123.81L189.80,123.23L190.00,123.00L190.30,122.65L190.80,122.04L191.30,121.40L191.80,120.73L192.30,120.03L192.80,119.32L193.30,118.58L193.80,117.82L194.30,117.05L194.80,116.26L195.30,115.47L195.80,114.66L196.30,113.86L196.80,113.05L197.30,112.24L197.80,111.43L198.30,110.64L198.80,109.85L199.30,109.07L199.80,108.30L200.00,108.00L200.30,107.55L200.80,106.81L201.30,106.08L201.80,105.35L202.30,104.62L202.80,103.90L203.30,103.18L203.80,102.46L204.30,101.74L204.80,101.01L205.30,100.29L205.80,99.55L206.30,98.81L206.80,98.06L207.30,97.31L207.80,96.54L208.30,95.76L208.80,94.97L209.30,94.16L209.80,93.33L210.00,93.00L210.30,92.49L210.80,91.63L211.30,90.75L211.80,89.85L212.30,88.93L212.80,88.00L213.30,87.06L213.80,86.10L214.30,85.14L214.80,84.16L215.30,83.18L215.80,82.19L216.30,81.20L216.80,80.21L217.30,79.22L217.80,78.22L218.30,77.23L218.80,76.25L219.30,75.27L219.80,74.30L220.30,73.33L220.80,72.38L221.00,72.00L221.30,71.42L221.80,70.41L222.30,69.35L222.80,68.24L223.30,67.09L223.80,65.91L224.30,64.71L224.80,63.49L225.30,62.27L225.80,61.05L226.30,59.83L226.80,58.64L227.30,57.46L227.80,56.32L228.30,55.22L228.80,54.17L229.30,53.18L229.80,52.25L230.30,51.38L230.80,50.60L231.30,49.91L231.80,49.31L232.30,48.81L232.80,48.43L233.30,48.16L233.80,48.02L234.00,48.00L234.30,48.01L234.80,48.11L235.30,48.33L235.80,48.64L236.30,49.06L236.80,49.57L237.30,50.16L237.80,50.84L238.30,51.59L238.80,52.42L239.30,53.31L239.80,54.26L240.30,55.26L240.80,56.32L241.30,57.42L241.80,58.55L242.30,59.72L242.80,60.92L243.30,62.14L243.80,63.38L244.30,64.63L244.80,65.89L245.30,67.14L245.80,68.40L246.30,69.64L246.80,70.87L247.30,72.07L247.80,73.25L248.30,74.40L248.80,75.51L249.30,76.58L249.80,77.61L250.00,78.00L250.30,78.58L250.80,79.56L251.30,80.52L251.80,81.49L252.30,82.46L252.80,83.43L253.30,84.40L253.80,85.37L254.30,86.34L254.80,87.31L255.30,88.29L255.80,89.28L256.30,90.27L256.80,91.27L257.30,92.27L257.80,93.28L258.30,94.30L258.80,95.33L259.30,96.37L259.80,97.43L260.30,98.49L260.80,99.57L261.00,100.00L261.30,100.65L261.80,101.75L262.30,102.86L262.80,103.98L263.30,105.10L263.80,106.24L264.30,107.38L264.80,108.52L265.30,109.68L265.80,110.84L266.30,112.01L266.80,113.18L267.30,114.36L267.80,115.55L268.30,116.74L268.80,117.94L269.30,119.13L269.80,120.34L270.30,121.55L270.80,122.76L271.30,123.97L271.80,125.18L272.30,126.40L272.80,127.62L273.30,128.84L273.80,130.07L274.30,131.29L274.80,132.52L275.30,133.74L275.80,134.96L276.30,136.19L276.80,137.41L277.30,138.63L277.80,139.85L278.30,141.07L278.80,142.29L279.30,143.50L279.80,144.71L280.30,145.92L280.80,147.13L281.30,148.33L281.80,149.52L282.00,150.00L282.30,150.72L282.80,151.93L283.30,153.14L283.80,154.37L284.30,155.60L284.80,156.84L285.30,158.07L285.80,159.30L286.30,160.53L286.80,161.74L287.30,162.94L287.80,164.13L288.30,165.30L288.80,166.45L289.30,167.57L289.80,168.67L290.00,169.10L290.30,169.74L290.80,170.80L291.30,171.85L291.80,172.89L292.30,173.93L292.80,174.95L293.30,175.96L293.80,176.96L294.30,177.95L294.80,178.92L295.30,179.89L295.80,180.84L296.30,181.78L296.80,182.70L297.30,183.62L297.80,184.52L298.30,185.40L298.80,186.27L299.30,187.13L299.80,187.97L300.00,188.30L300.30,188.80L300.80,189.63L301.30,190.47L301.80,191.30L302.30,192.13L302.80,192.95L303.30,193.76L303.80,194.55L304.30,195.32L304.80,196.06L305.30,196.78L305.80,197.46L306.30,198.11L306.80,198.72L307.30,199.29L307.80,199.81L308.00,200.00L308.30,200.26L308.80,200.63L309.30,200.92L309.80,201.17L310.30,201.41L310.80,201.66L311.30,201.96L311.80,202.33L312.00,202.50L312.30,202.79L312.80,203.32L313.30,203.89L313.80,204.48L314.30,205.06L314.80,205.60L315.00,205.80L315.30,206.09L315.80,206.58L316.30,207.08L316.80,207.56L317.30,208.03L317.80,208.49L318.30,208.92L318.80,209.32L319.30,209.67L319.80,209.99L320.00,210.10L320.30,210.26L320.80,210.51L321.30,210.75L321.80,210.97L322.30,211.19L322.80,211.39L323.30,211.59L323.80,211.78L324.30,211.96L324.80,212.14L325.30,212.32L325.80,212.50L326.30,212.67L326.80,212.85L327.30,213.03L327.80,213.21L328.30,213.40L328.80,213.60L329.30,213.80L329.80,214.01L330.00,214.10L330.30,214.23L330.80,214.45L331.30,214.67L331.80,214.90L332.30,215.12L332.80,215.34L333.30,215.56L333.80,215.78L334.30,216.01L334.80,216.24L335.30,216.47L335.80,216.71L336.30,216.95L336.80,217.19L337.30,217.44L337.80,217.70L338.30,217.96L338.80,218.23L339.30,218.50L339.80,218.78L340.00,218.90L340.30,219.08L340.80,219.39L341.30,219.71L341.80,220.05L342.30,220.40L342.80,220.76L343.30,221.13L343.80,221.51L344.30,221.90L344.80,222.29L345.30,222.68L345.80,223.07L346.30,223.47L346.80,223.86L347.30,224.24L347.80,224.63L348.30,225.00L348.80,225.37L349.30,225.72L349.80,226.07L350.00,226.20L350.30,226.40L350.80,226.72L351.30,227.03L351.80,227.33L352.30,227.62L352.80,227.91L353.30,228.20L353.80,228.48L354.30,228.77L354.80,229.05L355.30,229.34L355.80,229.63L356.30,229.93L356.80,230.23L357.30,230.54L357.80,230.87L358.00,231.00L358.30,231.20L358.80,231.55L359.30,231.91L359.80,232.28L360.30,232.66L360.80,233.04L361.30,233.44L361.80,233.84L362.00,234.00" stroke="#800000"/>
<path d="M80.00,234.00L80.50,229.23L81.00,224.58L81.50,220.05L82.00,215.69L82.50,211.45L83.00,207.33L83.50,203.34L84.00,199.49L84.50,195.77L85.00,192.16L85.50,188.67L86.00,185.32L86.50,182.09L87.00,178.96L87.50,175.95L88.00,173.07L88.50,170.30L89.00,167.63L89.50,165.06L90.00,162.63L90.50,160.30L91.00,158.05L91.50,155.91L92.00,153.89L92.50,151.97L93.00,150.12L93.50,148.37L94.00,146.74L94.50,145.19L95.00,143.71L95.50,142.32L96.00,141.04L96.50,139.85L97.00,138.71L97.50,137.65L98.00,136.69L98.50,135.80L99.00,134.96L99.50,134.20L100.00,133.52L100.50,132.91L101.00,132.34L101.50,131.83L102.00,131.40L102.50,131.03L103.00,130.69L103.50,130.39L104.00,130.16L104.50,129.99L105.00,129.83L105.50,129.70L106.00,129.61L106.50,129.55L107.00,129.51L107.50,129.49L108.00,129.50L108.50,129.53L109.00,129.57L109.50,129.62L110.00,129.67L110.50,129.74L111.00,129.81L111.50,129.89L112.00,129.98L112.50,130.07L113.00,130.17L113.50,130.28L114.00,130.39L114.50,130.51L115.00,130.63L115.50,130.75L116.00,130.88L116.50,131.02L117.00,131.15L117.50,131.29L118.00,131.43L118.50,131.57L119.00,131.71L119.50,131.86L120.00,132.00L120.50,132.16L121.00,132.33L121.50,132.53L122.00,132.74L122.50,132.97L123.00,133.22L123.50,133.47L124.00,133.74L124.50,134.02L125.00,134.31L125.50,134.60L126.00,134.89L126.50,135.19L127.00,135.49L127.50,135.79L128.00,136.08L128.50,136.37L129.00,136.66L129.50,136.94L130.00,137.20L130.50,137.46L131.00,137.71L131.50,137.94L132.00,138.15L132.50,138.35L133.00,138.52L133.50,138.68L134.00,138.81L134.50,138.92L135.00,139.00L135.50,139.06L136.00,139.12L136.50,139.17L137.00,139.21L137.50,139.24L138.00,139.26L138.50,139.28L139.00,139.29L139.50,139.30L140.00,139.30L140.50,139.29L141.00,139.27L141.50,139.25L142.00,139.23L142.50,139.20L143.00,139.16L143.50,139.12L144.00,139.07L144.50,139.02L145.00,138.96L145.50,138.90L146.00,138.83L146.50,138.77L147.00,138.69L147.50,138.62L148.00,138.54L148.50,138.45L149.00,138.37L149.50,138.28L150.00,138.19L150.50,138.09L151.00,138.00L151.50,137.90L152.00,137.80L152.50,137.70L153.00,137.59L153.50,137.49L154.00,137.38L154.50,137.28L155.00,137.17L155.50,137.06L156.00,136.95L156.50,136.84L157.00,136.74L157.50,136.63L158.00,136.52L158.50,136.41L159.00,136.31L159.50,136.20L160.00,136.10L160.50,135.99L161.00,135.88L161.50,135.77L162.00,135.65L162.50,135.53L163.00,135.40L163.50,135.27L164.00,135.13L164.50,134.99L165.00,134.84L165.50,134.69L166.00,134.54L166.50,134.38L167.00,134.21L167.50,134.05L168.00,133.87L168.50,133.70L169.00,133.52L169.50,133.33L170.00,133.14L170.50,132.95L171.00,132.75L171.50,132.54L172.00,132.34L172.50,132.12L173.00,131.91L173.50,131.69L174.00,131.46L174.50,131.23L175.00,131.00L175.50,130.75L176.00,130.49L176.50,130.20L177.00,129.89L177.50,129.57L178.00,129.22L178.50,128.87L179.00,128.49L179.50,128.10L180.00,127.70L180.50,127.28L181.00,126.85L181.50,126.41L182.00,125.96L182.50,125.50L183.00,125.03L183.50,124.55L184.00,124.06L184.50,123.57L185.00,123.07L185.50,122.57L186.00,122.07L186.50,121.56L187.00,121.05L187.50,120.54L188.00,120.03L188.50,119.52L189.00,119.01L189.50,118.50L190.00,118.00L190.50,117.49L191.00,116.97L191.50,116.44L192.00,115.89L192.50,115.33L193.00,114.76L193.50,114.18L194.00,113.59L194.50,113.00L195.00,112.39L195.50,111.77L196.00,111.15L196.50,110.53L197.00,109.89L197.50,109.25L198.00,108.61L198.50,107.96L199.00,107.31L199.50,106.66L200.00,106.00L200.50,105.34L201.00,104.67L201.50,103.99L202.00,103.31L202.50,102.61L203.00,101.91L203.50,101.20L204.00,100.47L204.50,99.74L205.00,99.00L205.50,98.25L206.00,97.49L206.50,96.72L207.00,95.93L207.50,95.14L208.00,94.33L208.50,93.52L209.00,92.69L209.50,91.85L210.00,91.00L210.50,90.13L211.00,89.22L211.50,88.28L212.00,87.32L212.50,86.33L213.00,85.32L213.50,84.30L214.00,83.26L214.50,82.22L215.00,81.16L215.50,80.11L216.00,79.05L216.50,78.00L217.00,76.95L217.50,75.92L218.00,74.89L218.50,73.89L219.00,72.90L219.50,71.94L220.00,71.00L220.50,70.06L221.00,69.08L221.50,68.08L222.00,67.05L222.50,66.01L223.00,64.94L223.50,63.87L224.00,62.79L224.50,61.72L225.00,60.64L225.50,59.57L226.00,58.52L226.50,57.48L227.00,56.47L227.50,55.48L228.00,54.52L228.50,53.60L229.00,52.72L229.50,51.89L230.00,51.10L230.50,50.37L231.00,49.70L231.50,49.09L232.00,48.55L232.50,48.08L233.00,47.69L233.50,47.38L234.00,47.16L234.50,47.03L235.00,47.00L235.50,47.07L236.00,47.25L236.50,47.54L237.00,47.92L237.50,48.40L238.00,48.96L238.50,49.61L239.00,50.33L239.50,51.12L240.00,51.99L240.50,52.91L241.00,53.89L241.50,54.92L242.00,55.99L242.50,57.10L243.00,58.25L243.50,59.43L244.00,60.63L244.50,61.85L245.00,63.09L245.50,64.33L246.00,65.58L246.50,66.82L247.00,68.05L247.50,69.28L248.00,70.48L248.50,71.66L249.00,72.81L249.50,73.92L250.00,75.00L250.50,76.06L251.00,77.13L251.50,78.22L252.00,79.31L252.50,80.41L253.00,81.53L253.50,82.65L254.00,83.78L254.50,84.91L255.00,86.06L255.50,87.20L256.00,88.36L256.50,89.51L257.00,90.68L257.50,91.84L258.00,93.00L258.50,94.17L259.00,95.34L259.50,96.51L260.00,97.67L260.50,98.84L261.00,100.00L261.50,101.17L262.00,102.35L262.50,103.54L263.00,104.75L263.50,105.97L264.00,107.19L264.50,108.43L265.00,109.67L265.50,110.92L266.00,112.17L266.50,113.43L267.00,114.69L267.50,115.96L268.00,117.23L268.50,118.50L269.00,119.77L269.50,121.04L270.00,122.31L270.50,123.58L271.00,124.84L271.50,126.10L272.00,127.36L272.50,128.60L273.00,129.85L273.50,131.08L274.00,132.31L274.50,133.52L275.00,134.73L275.50,135.92L276.00,137.10L276.50,138.27L277.00,139.43L277.50,140.57L278.00,141.69L278.50,142.80L279.00,143.89L279.50,144.96L280.00,146.01L280.50,147.04L281.00,148.05L281.50,149.04L282.00,150.00L282.50,150.94L283.00,151.85L283.50,152.74L284.00,153.60L284.50,154.44L285.00,155.26L285.50,156.06L286.00,156.84L286.50,157.60L287.00,158.34L287.50,159.07L288.00,159.78L288.50,160.48L289.00,161.17L289.50,161.84L290.00,162.50L290.50,163.15L291.00,163.80L291.50,164.44L292.00,165.07L292.50,165.69L293.00,166.31L293.50,166.93L294.00,167.53L294.50,168.14L295.00,168.73L295.50,169.33L296.00,169.91L296.50,170.50L297.00,171.08L297.50,171.66L298.00,172.23L298.50,172.80L299.00,173.37L299.50,173.94L300.00,174.50L300.50,175.07L301.00,175.65L301.50,176.23L302.00,176.83L302.50,177.42L303.00,178.02L303.50,178.62L304.00,179.21L304.50,179.79L305.00,180.37L305.50,180.94L306.00,181.49L306.50,182.03L307.00,182.56L307.50,183.06L308.00,183.54L308.50,184.00L309.00,184.43L309.50,184.83L310.00,185.20L310.50,185.55L311.00,185.89L311.50,186.23L312.00,186.56L312.50,186.88L313.00,187.20L313.50,187.51L314.00,187.81L314.50,188.11L315.00,188.41L315.50,188.70L316.00,188.98L316.50,189.26L317.00,189.54L317.50,189.81L318.00,190.08L318.50,190.35L319.00,190.61L319.50,190.87L320.00,191.13L320.50,191.38L321.00,191.64L321.50,191.89L322.00,192.14L322.50,192.39L323.00,192.64L323.50,192.89L324.00,193.13L324.50,193.38L325.00,193.63L325.50,193.88L326.00,194.13L326.50,194.38L327.00,194.64L327.50,194.89L328.00,195.15L328.50,195.41L329.00,195.67L329.50,195.93L330.00,196.20L330.50,196.47L331.00,196.74L331.50,197.02L332.00,197.30L332.50,197.57L333.00,197.85L333.50,198.13L334.00,198.42L334.50,198.70L335.00,198.98L335.50,199.26L336.00,199.54L336.50,199.82L337.00,200.10L337.50,200.38L338.00,200.65L338.50,200.93L339.00,201.20L339.50,201.47L340.00,201.74L340.50,202.00L341.00,202.26L341.50,202.52L342.00,202.78L342.50,203.02L343.00,203.27L343.50,203.51L344.00,203.75L344.50,203.98L345.00,204.20L345.50,204.42L346.00,204.64L346.50,204.86L347.00,205.08L347.50,205.29L348.00,205.51L348.50,205.72L349.00,205.93L349.50,206.14L350.00,206.35L350.50,206.55L351.00,206.76L351.50,206.96L352.00,207.16L352.50,207.35L353.00,207.55L353.50,207.74L354.00,207.93L354.50,208.11L355.00,208.30L355.50,208.48L356.00,208.65L356.50,208.83L357.00,209.00L357.50,209.17L358.00,209.33L358.50,209.49L359.00,209.65L359.50,209.80L360.00,209.95L360.50,210.09L361.00,210.23L361.50,210.37L362.00,210.50" stroke="#008000"/>
<path d="M76.60,234.00L77.10,229.30L77.60,224.71L78.10,220.25L78.60,215.92L78.70,215.07L79.10,211.73L79.60,207.64L80.10,203.67L80.60,199.83L80.80,198.34L81.10,196.13L81.60,192.52L82.10,189.02L82.60,185.65L82.90,183.69L83.10,182.41L83.60,179.26L84.10,176.22L84.60,173.28L85.00,171.03L85.10,170.48L85.60,167.77L86.10,165.15L86.60,162.63L87.10,160.24L87.60,157.94L88.10,155.73L88.60,153.60L89.10,151.59L89.20,151.21L89.60,149.69L90.10,147.85L90.60,146.09L91.10,144.44L91.30,143.81L91.60,142.89L92.10,141.41L92.60,139.99L93.10,138.67L93.40,137.93L93.60,137.45L94.10,136.29L94.60,135.19L95.10,134.17L95.50,133.43L95.60,133.25L96.10,132.39L96.60,131.57L97.10,130.82L97.60,130.16L98.10,129.56L98.60,128.99L99.10,128.48L99.60,128.04L99.70,127.97L100.10,127.67L100.60,127.32L101.10,127.01L101.60,126.76L101.80,126.69L102.10,126.58L102.60,126.42L103.10,126.28L103.60,126.17L103.90,126.11L104.10,126.08L104.60,126.02L105.10,125.97L105.60,125.97L106.00,126.00L106.10,126.01L106.60,126.09L107.10,126.19L107.60,126.30L108.10,126.43L108.60,126.58L109.10,126.74L109.60,126.91L110.10,127.10L110.60,127.30L111.10,127.50L111.60,127.72L112.10,127.95L112.60,128.19L113.10,128.43L113.60,128.68L114.10,128.93L114.60,129.19L115.10,129.45L115.60,129.72L116.10,129.98L116.60,130.25L117.10,130.51L117.60,130.78L118.10,131.04L118.60,131.30L119.10,131.55L119.60,131.80L120.00,132.00L120.10,132.05L120.60,132.30L121.10,132.57L121.60,132.84L122.10,133.13L122.60,133.43L123.10,133.74L123.60,134.06L124.10,134.38L124.60,134.71L125.10,135.04L125.60,135.38L126.10,135.72L126.60,136.06L127.10,136.40L127.60,136.74L128.10,137.08L128.60,137.41L129.10,137.74L129.60,138.07L130.10,138.39L130.60,138.70L131.10,139.00L131.60,139.30L132.10,139.58L132.60,139.85L133.10,140.11L133.60,140.35L134.10,140.58L134.60,140.80L135.10,140.99L135.60,141.17L136.10,141.33L136.60,141.46L137.10,141.58L137.20,141.60L137.60,141.68L138.10,141.76L138.60,141.84L139.10,141.90L139.60,141.96L140.10,142.00L140.60,142.04L141.10,142.07L141.60,142.08L142.10,142.09L142.60,142.09L143.10,142.09L143.60,142.07L144.10,142.05L144.60,142.02L145.10,141.98L145.60,141.94L146.10,141.89L146.60,141.84L147.10,141.78L147.60,141.71L148.10,141.64L148.60,141.56L149.10,141.48L149.60,141.39L150.10,141.30L150.60,141.20L151.10,141.10L151.60,141.00L152.10,140.89L152.60,140.78L153.10,140.67L153.60,140.56L154.10,140.44L154.60,140.32L155.10,140.20L155.60,140.08L156.10,139.96L156.60,139.84L157.10,139.71L157.60,139.59L158.10,139.47L158.60,139.34L159.10,139.22L159.60,139.10L160.00,139.00L160.10,138.98L160.60,138.85L161.10,138.72L161.60,138.58L162.10,138.44L162.60,138.29L163.10,138.13L163.60,137.97L164.10,137.80L164.60,137.63L165.10,137.45L165.60,137.27L166.10,137.08L166.60,136.89L167.10,136.69L167.60,136.49L168.10,136.28L168.60,136.07L169.10,135.85L169.60,135.63L170.10,135.40L170.60,135.17L171.10,134.94L171.60,134.70L172.10,134.46L172.60,134.22L173.10,133.97L173.60,133.72L174.10,133.47L174.60,133.21L175.00,133.00L175.10,132.95L175.60,132.67L176.10,132.38L176.60,132.08L177.10,131.76L177.60,131.42L178.10,131.07L178.60,130.71L179.10,130.33L179.60,129.95L180.10,129.55L180.60,129.13L181.10,128.71L181.60,128.28L182.10,127.84L182.60,127.38L183.10,126.92L183.60,126.46L184.10,125.98L184.60,125.50L185.10,125.01L185.60,124.51L186.10,124.01L186.60,123.51L187.10,123.00L187.60,122.49L188.10,121.97L188.60,121.46L189.10,120.94L189.60,120.42L190.00,120.00L190.10,119.90L190.60,119.36L191.10,118.80L191.60,118.23L192.10,117.63L192.60,117.03L193.10,116.40L193.60,115.77L194.10,115.12L194.60,114.46L195.10,113.79L195.60,113.11L196.10,112.43L196.60,111.74L197.10,111.04L197.60,110.34L198.10,109.65L198.60,108.95L199.10,108.25L199.60,107.55L200.00,107.00L200.10,106.86L200.60,106.17L201.10,105.48L201.60,104.78L202.10,104.08L202.60,103.37L203.10,102.66L203.60,101.95L204.10,101.23L204.60,100.50L205.10,99.76L205.60,99.02L206.10,98.26L206.60,97.50L207.10,96.73L207.60,95.94L208.10,95.14L208.60,94.34L209.10,93.51L209.60,92.68L210.00,92.00L210.10,91.83L210.60,90.95L211.10,90.03L211.60,89.09L212.10,88.12L212.60,87.12L213.10,86.10L213.60,85.07L214.10,84.03L214.60,82.97L215.10,81.91L215.60,80.85L216.10,79.79L216.60,78.74L217.10,77.70L217.60,76.66L218.10,75.65L218.60,74.65L219.10,73.68L219.60,72.73L220.00,72.00L220.10,71.82L220.60,70.89L221.10,69.94L221.60,68.96L222.10,67.95L222.60,66.94L223.10,65.91L223.60,64.87L224.10,63.82L224.60,62.78L225.10,61.74L225.60,60.71L226.10,59.69L226.60,58.68L227.10,57.70L227.60,56.74L228.10,55.80L228.60,54.90L229.10,54.04L229.60,53.22L230.10,52.44L230.60,51.71L231.10,51.03L231.60,50.40L232.10,49.84L232.60,49.35L233.10,48.92L233.60,48.56L234.10,48.28L234.60,48.09L235.10,47.98L235.60,47.95L236.00,48.00L236.10,48.02L236.60,48.20L237.10,48.49L237.60,48.89L238.10,49.38L238.60,49.97L239.10,50.65L239.60,51.40L240.10,52.23L240.60,53.13L241.10,54.09L241.60,55.11L242.10,56.18L242.60,57.30L243.10,58.45L243.60,59.63L244.10,60.84L244.60,62.07L245.10,63.32L245.60,64.57L246.10,65.83L246.60,67.08L247.10,68.32L247.60,69.54L248.10,70.74L248.60,71.92L249.10,73.06L249.60,74.15L250.00,75.00L250.10,75.21L250.60,76.25L251.10,77.29L251.60,78.34L252.10,79.40L252.60,80.45L253.10,81.52L253.60,82.58L254.10,83.66L254.60,84.73L255.10,85.81L255.60,86.90L256.10,87.98L256.60,89.08L257.10,90.17L257.60,91.28L258.10,92.38L258.60,93.49L259.10,94.60L259.60,95.72L260.10,96.84L260.60,97.97L261.10,99.09L261.50,100.00L261.60,100.23L262.10,101.37L262.60,102.53L263.10,103.71L263.60,104.90L264.10,106.10L264.60,107.31L265.10,108.53L265.60,109.76L266.10,111.01L266.60,112.25L267.10,113.51L267.60,114.77L268.10,116.03L268.60,117.30L269.10,118.57L269.60,119.85L270.10,121.12L270.60,122.39L271.10,123.66L271.60,124.93L272.10,126.19L272.60,127.45L273.10,128.71L273.60,129.96L274.10,131.20L274.60,132.43L275.10,133.65L275.60,134.87L276.10,136.07L276.60,137.26L277.10,138.43L277.60,139.59L278.10,140.74L278.60,141.87L279.10,142.98L279.60,144.07L280.10,145.15L280.60,146.20L281.10,147.23L281.60,148.24L282.10,149.23L282.50,150.00L282.60,150.19L283.10,151.13L283.60,152.04L284.10,152.92L284.60,153.78L285.10,154.62L285.60,155.43L286.10,156.23L286.60,157.00L287.10,157.76L287.60,158.49L288.10,159.21L288.60,159.91L289.10,160.60L289.60,161.27L290.00,161.80L290.10,161.93L290.60,162.58L291.10,163.22L291.60,163.85L292.10,164.47L292.60,165.09L293.10,165.70L293.60,166.30L294.10,166.90L294.60,167.50L295.10,168.09L295.60,168.67L296.10,169.25L296.60,169.83L297.10,170.40L297.60,170.97L298.10,171.54L298.60,172.11L299.10,172.68L299.60,173.25L300.00,173.70L300.10,173.81L300.60,174.39L301.10,174.98L301.60,175.57L302.10,176.18L302.60,176.78L303.10,177.39L303.60,178.00L304.10,178.60L304.60,179.20L305.10,179.79L305.60,180.37L306.10,180.93L306.60,181.48L307.10,182.01L307.60,182.52L308.10,183.01L308.60,183.47L309.10,183.90L309.60,184.30L310.00,184.60L310.10,184.67L310.60,185.02L311.10,185.37L311.60,185.71L312.10,186.04L312.60,186.36L313.10,186.68L313.60,186.99L314.10,187.29L314.60,187.59L315.10,187.88L315.60,188.17L316.10,188.46L316.60,188.73L317.10,189.01L317.60,189.28L318.10,189.55L318.60,189.81L319.10,190.07L319.60,190.33L320.10,190.59L320.60,190.84L321.10,191.09L321.60,191.34L322.10,191.59L322.60,191.84L323.10,192.09L323.60,192.33L324.10,192.58L324.60,192.83L325.10,193.08L325.60,193.32L326.10,193.57L326.60,193.83L327.10,194.08L327.60,194.34L328.10,194.59L328.60,194.85L329.10,195.12L329.60,195.38L330.00,195.60L330.10,195.65L330.60,195.93L331.10,196.20L331.60,196.48L332.10,196.76L332.60,197.04L333.10,197.33L333.60,197.61L334.10,197.90L334.60,198.18L335.10,198.47L335.60,198.75L336.10,199.04L336.60,199.32L337.10,199.60L337.60,199.89L338.10,200.17L338.60,200.44L339.10,200.72L339.60,200.99L340.10,201.26L340.60,201.53L341.10,201.80L341.60,202.06L342.10,202.31L342.60,202.56L343.10,202.81L343.60,203.05L344.10,203.29L344.60,203.52L345.00,203.70L345.10,203.74L345.60,203.97L346.10,204.19L346.60,204.41L347.10,204.63L347.60,204.85L348.10,205.06L348.60,205.27L349.10,205.49L349.60,205.70L350.10,205.91L350.60,206.11L351.10,206.32L351.60,206.52L352.10,206.72L352.60,206.91L353.10,207.11L353.60,207.30L354.10,207.49L354.60,207.67L355.10,207.85L355.60,208.03L356.10,208.21L356.60,208.38L357.10,208.55L357.60,208.71L358.10,208.88L358.60,209.03L359.10,209.19L359.60,209.34L360.10,209.48L360.60,209.63L361.10,209.76L361.60,209.90L362.00,210.00" stroke="#008080"/>
<path d="M68.50,234.00L69.00,229.25L69.50,224.60L70.00,220.09L70.50,215.73L70.54,215.42L71.00,211.50L71.50,207.38L72.00,203.39L72.50,199.54L72.57,199.00L73.00,195.81L73.50,192.19L74.00,188.69L74.50,185.33L74.61,184.62L75.00,182.09L75.50,178.94L76.00,175.91L76.50,173.00L76.64,172.19L77.00,170.22L77.50,167.52L78.00,164.93L78.50,162.46L78.68,161.60L79.00,160.10L79.50,157.83L80.00,155.65L80.50,153.59L80.71,152.74L81.00,151.64L81.50,149.76L82.00,147.97L82.50,146.28L82.75,145.48L83.00,144.71L83.50,143.20L84.00,141.76L84.50,140.42L84.79,139.71L85.00,139.19L85.50,138.02L86.00,136.91L86.50,135.89L86.82,135.29L87.00,134.97L87.50,134.10L88.00,133.29L88.50,132.55L88.86,132.08L89.00,131.91L89.50,131.31L90.00,130.75L90.50,130.26L90.89,129.93L91.00,129.85L91.50,129.48L92.00,129.14L92.50,128.86L92.93,128.67L93.00,128.65L93.50,128.47L94.00,128.31L94.50,128.18L94.96,128.11L95.00,128.11L95.50,128.07L96.00,128.04L96.50,128.01L97.00,128.00L97.50,127.99L98.00,127.99L98.50,128.00L99.00,128.00L99.50,128.01L100.00,128.02L100.50,128.04L101.00,128.06L101.50,128.08L102.00,128.11L102.50,128.14L103.00,128.17L103.50,128.21L104.00,128.25L104.50,128.30L105.00,128.34L105.50,128.39L106.00,128.45L106.50,128.51L107.00,128.57L107.50,128.63L108.00,128.70L108.50,128.77L109.00,128.84L109.50,128.92L110.00,129.00L110.50,129.10L111.00,129.23L111.50,129.39L112.00,129.58L112.50,129.79L113.00,130.03L113.50,130.29L114.00,130.57L114.50,130.87L115.00,131.19L115.50,131.52L116.00,131.86L116.50,132.21L117.00,132.58L117.50,132.94L118.00,133.32L118.50,133.70L119.00,134.07L119.50,134.45L120.00,134.83L120.50,135.20L121.00,135.56L121.50,135.91L122.00,136.26L122.50,136.59L123.00,136.91L123.50,137.21L124.00,137.49L124.50,137.76L125.00,138.00L125.50,138.23L126.00,138.46L126.50,138.69L127.00,138.92L127.50,139.15L128.00,139.38L128.50,139.61L129.00,139.83L129.50,140.05L130.00,140.27L130.50,140.49L131.00,140.70L131.50,140.91L132.00,141.11L132.50,141.31L133.00,141.51L133.50,141.70L134.00,141.88L134.50,142.06L135.00,142.23L135.50,142.39L136.00,142.55L136.50,142.70L137.00,142.84L137.50,142.98L138.00,143.10L138.50,143.21L139.00,143.32L139.50,143.41L140.00,143.50L140.50,143.58L141.00,143.65L141.50,143.71L142.00,143.77L142.50,143.82L143.00,143.86L143.50,143.90L144.00,143.93L144.50,143.96L145.00,143.98L145.50,144.00L146.00,144.01L146.50,144.01L147.00,144.01L147.50,144.00L148.00,143.99L148.50,143.98L149.00,143.95L149.50,143.93L150.00,143.90L150.50,143.86L151.00,143.83L151.50,143.78L152.00,143.73L152.50,143.68L153.00,143.63L153.50,143.57L154.00,143.51L154.50,143.44L155.00,143.37L155.50,143.29L156.00,143.22L156.50,143.14L157.00,143.06L157.50,142.97L158.00,142.88L158.50,142.79L159.00,142.70L159.50,142.60L160.00,142.50L160.50,142.39L161.00,142.27L161.50,142.13L162.00,141.98L162.50,141.82L163.00,141.64L163.50,141.46L164.00,141.26L164.50,141.05L165.00,140.82L165.50,140.59L166.00,140.35L166.50,140.10L167.00,139.85L167.50,139.58L168.00,139.31L168.50,139.03L169.00,138.74L169.50,138.45L170.00,138.15L170.50,137.85L171.00,137.54L171.50,137.23L172.00,136.92L172.50,136.60L173.00,136.28L173.50,135.96L174.00,135.64L174.50,135.32L175.00,135.00L175.50,134.67L176.00,134.33L176.50,133.97L177.00,133.61L177.50,133.23L178.00,132.83L178.50,132.43L179.00,132.01L179.50,131.59L180.00,131.15L180.50,130.70L181.00,130.25L181.50,129.79L182.00,129.31L182.50,128.83L183.00,128.35L183.50,127.85L184.00,127.35L184.50,126.84L185.00,126.33L185.50,125.81L186.00,125.29L186.50,124.76L187.00,124.23L187.50,123.70L188.00,123.16L188.50,122.63L189.00,122.09L189.50,121.54L190.00,121.00L190.50,120.45L191.00,119.88L191.50,119.30L192.00,118.70L192.50,118.09L193.00,117.46L193.50,116.83L194.00,116.18L194.50,115.53L195.00,114.86L195.50,114.19L196.00,113.51L196.50,112.83L197.00,112.15L197.50,111.46L198.00,110.77L198.50,110.07L199.00,109.38L199.50,108.69L200.00,108.00L200.50,107.31L201.00,106.62L201.50,105.93L202.00,105.23L202.50,104.53L203.00,103.83L203.50,103.12L204.00,102.40L204.50,101.68L205.00,100.95L205.50,100.21L206.00,99.46L206.50,98.70L207.00,97.92L207.50,97.14L208.00,96.34L208.50,95.53L209.00,94.70L209.50,93.86L210.00,93.00L210.50,92.11L211.00,91.17L211.50,90.19L212.00,89.17L212.50,88.12L213.00,87.05L213.50,85.95L214.00,84.83L214.50,83.71L215.00,82.58L215.50,81.44L216.00,80.31L216.50,79.19L217.00,78.08L217.50,76.99L218.00,75.93L218.50,74.89L219.00,73.89L219.50,72.92L220.00,72.00L220.50,71.09L221.00,70.17L221.50,69.23L222.00,68.27L222.50,67.31L223.00,66.34L223.50,65.37L224.00,64.40L224.50,63.43L225.00,62.46L225.50,61.50L226.00,60.55L226.50,59.61L227.00,58.69L227.50,57.79L228.00,56.91L228.50,56.05L229.00,55.22L229.50,54.42L230.00,53.65L230.50,52.92L231.00,52.22L231.50,51.56L232.00,50.95L232.50,50.39L233.00,49.87L233.50,49.40L234.00,48.99L234.50,48.64L235.00,48.35L235.50,48.12L236.00,47.95L236.50,47.85L237.00,47.83L237.50,47.88L238.00,48.00L238.50,48.23L239.00,48.58L239.50,49.05L240.00,49.62L240.50,50.30L241.00,51.07L241.50,51.92L242.00,52.85L242.50,53.85L243.00,54.91L243.50,56.03L244.00,57.19L244.50,58.40L245.00,59.63L245.50,60.89L246.00,62.16L246.50,63.44L247.00,64.72L247.50,66.00L248.00,67.26L248.50,68.50L249.00,69.71L249.50,70.88L250.00,72.00L250.50,73.11L251.00,74.23L251.50,75.37L252.00,76.53L252.50,77.69L253.00,78.87L253.50,80.05L254.00,81.25L254.50,82.44L255.00,83.64L255.50,84.85L256.00,86.05L256.50,87.26L257.00,88.46L257.50,89.66L258.00,90.85L258.50,92.04L259.00,93.21L259.50,94.38L260.00,95.53L260.50,96.67L261.00,97.80L261.50,98.91L262.00,100.00L262.50,101.07L263.00,102.13L263.50,103.18L264.00,104.21L264.50,105.23L265.00,106.24L265.50,107.24L266.00,108.23L266.50,109.22L267.00,110.20L267.50,111.17L268.00,112.14L268.50,113.11L269.00,114.07L269.50,115.04L270.00,116.00L270.50,116.97L271.00,117.94L271.50,118.91L272.00,119.89L272.50,120.87L273.00,121.86L273.50,122.86L274.00,123.86L274.50,124.88L275.00,125.91L275.50,126.95L276.00,128.00L276.50,129.08L277.00,130.21L277.50,131.36L278.00,132.54L278.50,133.74L279.00,134.95L279.50,136.17L280.00,137.38L280.50,138.57L281.00,139.75L281.50,140.90L282.00,142.02L282.50,143.10L283.00,144.12L283.50,145.09L284.00,146.00L284.50,146.85L285.00,147.66L285.50,148.43L286.00,149.16L286.50,149.88L287.00,150.57L287.50,151.25L288.00,151.91L288.50,152.58L289.00,153.24L289.50,153.91L290.00,154.60L290.50,155.30L291.00,156.00L291.50,156.72L292.00,157.44L292.50,158.16L293.00,158.88L293.50,159.60L294.00,160.32L294.50,161.04L295.00,161.75L295.50,162.45L296.00,163.15L296.50,163.83L297.00,164.51L297.50,165.17L298.00,165.81L298.50,166.44L299.00,167.05L299.50,167.63L300.00,168.20L300.50,168.75L301.00,169.31L301.50,169.86L302.00,170.40L302.50,170.94L303.00,171.47L303.50,171.99L304.00,172.50L304.50,173.00L305.00,173.49L305.50,173.96L306.00,174.42L306.50,174.85L307.00,175.27L307.50,175.67L308.00,176.05L308.50,176.40L309.00,176.73L309.50,177.03L310.00,177.30L310.50,177.56L311.00,177.81L311.50,178.06L312.00,178.30L312.50,178.54L313.00,178.77L313.50,179.01L314.00,179.23L314.50,179.46L315.00,179.68L315.50,179.90L316.00,180.11L316.50,180.32L317.00,180.53L317.50,180.74L318.00,180.95L318.50,181.15L319.00,181.35L319.50,181.55L320.00,181.74L320.50,181.94L321.00,182.13L321.50,182.32L322.00,182.51L322.50,182.70L323.00,182.89L323.50,183.07L324.00,183.26L324.50,183.45L325.00,183.63L325.50,183.82L326.00,184.00L326.50,184.19L327.00,184.37L327.50,184.56L328.00,184.75L328.50,184.93L329.00,185.12L329.50,185.31L330.00,185.50L330.50,185.69L331.00,185.88L331.50,186.06L332.00,186.24L332.50,186.43L333.00,186.61L333.50,186.78L334.00,186.96L334.50,187.14L335.00,187.31L335.50,187.49L336.00,187.66L336.50,187.83L337.00,188.01L337.50,188.18L338.00,188.35L338.50,188.52L339.00,188.69L339.50,188.87L340.00,189.04L340.50,189.21L341.00,189.39L341.50,189.56L342.00,189.74L342.50,189.91L343.00,190.09L343.50,190.27L344.00,190.45L344.50,190.64L345.00,190.82L345.50,191.01L346.00,191.20L346.50,191.39L347.00,191.58L347.50,191.78L348.00,191.98L348.50,192.18L349.00,192.38L349.50,192.59L350.00,192.80L350.50,193.02L351.00,193.24L351.50,193.46L352.00,193.70L352.50,193.94L353.00,194.18L353.50,194.43L354.00,194.68L354.50,194.94L355.00,195.20L355.50,195.47L356.00,195.74L356.50,196.01L357.00,196.29L357.50,196.57L358.00,196.85L358.50,197.14L359.00,197.43L359.50,197.72L360.00,198.01L360.50,198.31L361.00,198.60L361.50,198.90L362.00,199.20" stroke="#0000a0"/>
<path d="M71.40,234.00L71.90,229.21L72.40,224.52L72.90,219.97L73.40,215.56L73.44,215.20L73.90,211.30L74.40,207.14L74.90,203.11L75.40,199.22L75.49,198.57L75.90,195.46L76.40,191.81L76.90,188.27L77.40,184.87L77.53,184.02L77.90,181.60L78.40,178.42L78.90,175.35L79.40,172.41L79.57,171.44L79.90,169.60L80.40,166.88L80.90,164.25L81.40,161.75L81.61,160.72L81.90,159.37L82.40,157.07L82.90,154.87L83.40,152.77L83.66,151.74L83.90,150.80L84.40,148.90L84.90,147.08L85.40,145.37L85.70,144.40L85.90,143.77L86.40,142.24L86.90,140.79L87.40,139.42L87.74,138.55L87.90,138.17L88.40,136.98L88.90,135.85L89.40,134.81L89.79,134.08L89.90,133.87L90.40,132.99L90.90,132.16L91.40,131.40L91.83,130.83L91.90,130.74L92.40,130.13L92.90,129.56L93.40,129.06L93.87,128.66L93.90,128.63L94.40,128.26L94.90,127.91L95.40,127.61L95.90,127.39L95.91,127.38L96.40,127.21L96.90,127.04L97.40,126.90L97.90,126.82L97.96,126.81L98.40,126.78L98.90,126.74L99.40,126.72L99.90,126.70L100.00,126.70L100.40,126.69L100.90,126.69L101.40,126.69L101.90,126.69L102.40,126.69L102.90,126.70L103.40,126.71L103.90,126.73L104.40,126.75L104.90,126.77L105.40,126.80L105.90,126.82L106.40,126.86L106.90,126.89L107.40,126.93L107.90,126.98L108.40,127.03L108.90,127.08L109.40,127.13L109.90,127.19L110.40,127.25L110.90,127.32L111.40,127.39L111.90,127.46L112.40,127.54L112.90,127.62L113.40,127.70L113.90,127.79L114.40,127.88L114.90,127.98L115.00,128.00L115.40,128.10L115.90,128.28L116.40,128.51L116.90,128.79L117.40,129.11L117.90,129.47L118.40,129.87L118.90,130.30L119.40,130.75L119.90,131.22L120.40,131.71L120.90,132.20L121.40,132.70L121.90,133.20L122.40,133.70L122.90,134.18L123.40,134.65L123.90,135.10L124.40,135.53L124.90,135.92L125.00,136.00L125.40,136.30L125.90,136.69L126.40,137.08L126.90,137.48L127.40,137.88L127.90,138.29L128.40,138.69L128.90,139.10L129.40,139.51L129.90,139.91L130.40,140.31L130.90,140.70L131.40,141.09L131.90,141.47L132.40,141.83L132.90,142.18L133.40,142.52L133.90,142.85L134.40,143.16L134.90,143.45L135.40,143.72L135.90,143.96L136.40,144.19L136.90,144.39L137.20,144.50L137.40,144.57L137.90,144.73L138.40,144.89L138.90,145.04L139.40,145.17L139.90,145.30L140.40,145.43L140.90,145.54L141.40,145.64L141.90,145.74L142.40,145.83L142.90,145.91L143.40,145.98L143.90,146.05L144.40,146.10L144.90,146.15L145.40,146.20L145.90,146.23L146.40,146.26L146.90,146.29L147.40,146.30L147.90,146.31L148.40,146.31L148.90,146.31L149.40,146.30L149.90,146.29L150.40,146.27L150.90,146.24L151.40,146.21L151.90,146.17L152.40,146.12L152.90,146.08L153.40,146.02L153.90,145.96L154.40,145.90L154.90,145.83L155.40,145.76L155.90,145.68L156.40,145.60L156.90,145.52L157.40,145.43L157.90,145.33L158.40,145.24L158.90,145.13L159.40,145.03L159.90,144.92L160.00,144.90L160.40,144.81L160.90,144.68L161.40,144.54L161.90,144.38L162.40,144.22L162.90,144.04L163.40,143.85L163.90,143.65L164.40,143.43L164.90,143.21L165.40,142.98L165.90,142.73L166.40,142.48L166.90,142.22L167.40,141.95L167.90,141.67L168.40,141.38L168.90,141.08L169.40,140.78L169.90,140.47L170.40,140.15L170.90,139.83L171.40,139.50L171.90,139.17L172.40,138.83L172.90,138.49L173.40,138.14L173.90,137.79L174.40,137.43L174.90,137.07L175.00,137.00L175.40,136.71L175.90,136.32L176.40,135.92L176.90,135.49L177.40,135.06L177.90,134.60L178.40,134.14L178.90,133.65L179.40,133.16L179.90,132.65L180.40,132.13L180.90,131.60L181.40,131.06L181.90,130.51L182.40,129.95L182.90,129.38L183.40,128.81L183.90,128.23L184.40,127.65L184.90,127.06L185.40,126.47L185.90,125.87L186.40,125.28L186.90,124.68L187.40,124.08L187.90,123.48L188.40,122.89L188.90,122.29L189.40,121.70L189.90,121.12L190.00,121.00L190.40,120.53L190.90,119.94L191.40,119.34L191.90,118.73L192.40,118.11L192.90,117.49L193.40,116.86L193.90,116.23L194.40,115.58L194.90,114.94L195.40,114.28L195.90,113.62L196.40,112.96L196.90,112.28L197.40,111.61L197.90,110.92L198.40,110.24L198.90,109.54L199.40,108.84L199.90,108.14L200.00,108.00L200.40,107.43L200.90,106.71L201.40,105.99L201.90,105.25L202.40,104.51L202.90,103.76L203.40,103.00L203.90,102.22L204.40,101.44L204.90,100.65L205.40,99.85L205.90,99.04L206.40,98.22L206.90,97.39L207.40,96.55L207.90,95.70L208.40,94.84L208.90,93.96L209.40,93.08L209.90,92.18L210.00,92.00L210.40,91.26L210.90,90.30L211.40,89.29L211.90,88.25L212.40,87.19L212.90,86.09L213.40,84.98L213.90,83.86L214.40,82.72L214.90,81.58L215.40,80.45L215.90,79.32L216.40,78.20L216.90,77.10L217.40,76.03L217.90,74.98L218.40,73.96L218.90,72.99L219.40,72.05L219.90,71.17L220.00,71.00L220.40,70.33L220.90,69.53L221.40,68.75L221.90,68.00L222.40,67.28L222.90,66.57L223.40,65.88L223.90,65.21L224.40,64.55L224.90,63.89L225.40,63.24L225.90,62.60L226.40,61.95L226.90,61.30L227.40,60.64L227.90,59.97L228.40,59.29L228.90,58.60L229.40,57.88L229.90,57.15L230.00,57.00L230.40,56.40L230.90,55.64L231.40,54.88L231.90,54.11L232.40,53.33L232.90,52.55L233.40,51.75L233.90,50.95L234.40,50.14L234.90,49.32L235.40,48.49L235.90,47.65L236.40,46.80L236.90,45.79L237.40,44.58L237.90,43.29L238.40,42.07L238.90,41.06L239.40,40.38L239.70,40.20L239.90,40.20L240.40,40.69L240.90,41.68L241.40,42.94L241.90,44.27L242.20,45.00L242.40,45.47L242.90,46.68L243.40,47.96L243.90,49.27L244.40,50.58L244.60,51.10L244.90,51.88L245.40,53.17L245.90,54.46L246.40,55.75L246.90,57.05L247.40,58.35L247.90,59.66L248.40,60.97L248.90,62.30L249.40,63.63L249.90,64.98L250.40,66.34L250.90,67.72L251.00,68.00L251.40,69.13L251.90,70.56L252.40,72.03L252.90,73.53L253.40,75.04L253.90,76.57L254.40,78.12L254.90,79.66L255.40,81.21L255.90,82.76L256.40,84.29L256.90,85.81L257.40,87.31L257.90,88.78L258.40,90.23L258.90,91.64L259.40,93.01L259.90,94.34L260.00,94.60L260.40,95.63L260.90,96.89L261.40,98.13L261.90,99.36L262.40,100.56L262.90,101.75L263.40,102.92L263.90,104.07L264.40,105.22L264.90,106.35L265.40,107.46L265.90,108.57L266.40,109.67L266.90,110.76L267.40,111.85L267.90,112.92L268.40,114.00L268.90,115.07L269.10,115.50L269.40,116.14L269.90,117.18L270.40,118.20L270.90,119.21L271.40,120.20L271.90,121.18L272.40,122.14L272.90,123.11L273.40,124.07L273.90,125.03L274.40,126.00L274.90,126.97L275.40,127.96L275.90,128.95L276.40,129.97L276.90,131.00L277.40,132.05L277.90,133.14L278.20,133.80L278.40,134.25L278.90,135.44L279.40,136.69L279.90,137.98L280.40,139.32L280.90,140.67L281.40,142.02L281.90,143.37L282.40,144.69L282.90,145.97L283.40,147.19L283.90,148.34L284.40,149.41L284.70,150.00L284.90,150.38L285.40,151.29L285.90,152.16L286.40,153.00L286.90,153.80L287.40,154.56L287.90,155.30L288.40,156.02L288.90,156.72L289.40,157.40L289.90,158.07L290.00,158.20L290.40,158.73L290.90,159.40L291.40,160.07L291.90,160.75L292.40,161.42L292.90,162.09L293.40,162.77L293.90,163.43L294.40,164.10L294.90,164.76L295.40,165.41L295.90,166.05L296.40,166.69L296.90,167.31L297.40,167.92L297.90,168.52L298.40,169.11L298.90,169.68L299.40,170.23L299.90,170.77L300.40,171.29L300.90,171.78L301.40,172.26L301.90,172.71L302.00,172.80L302.40,173.15L302.90,173.58L303.40,174.01L303.90,174.43L304.40,174.85L304.90,175.26L305.40,175.67L305.90,176.08L306.40,176.47L306.90,176.86L307.40,177.24L307.90,177.62L308.40,177.98L308.90,178.34L309.40,178.69L309.90,179.03L310.40,179.36L310.90,179.68L311.40,179.99L311.90,180.30L312.40,180.58L312.90,180.86L313.40,181.13L313.90,181.38L314.40,181.63L314.90,181.86L315.00,181.90L315.40,182.07L315.90,182.29L316.40,182.50L316.90,182.71L317.40,182.92L317.90,183.12L318.40,183.32L318.90,183.52L319.40,183.71L319.90,183.90L320.40,184.09L320.90,184.28L321.40,184.46L321.90,184.65L322.40,184.83L322.90,185.01L323.40,185.18L323.90,185.36L324.40,185.54L324.90,185.71L325.40,185.88L325.90,186.05L326.40,186.22L326.90,186.39L327.40,186.56L327.90,186.73L328.40,186.90L328.90,187.07L329.40,187.24L329.90,187.40L330.40,187.57L330.90,187.74L331.40,187.91L331.90,188.08L332.40,188.25L332.90,188.42L333.40,188.59L333.90,188.76L334.40,188.94L334.90,189.11L335.40,189.29L335.90,189.47L336.40,189.65L336.90,189.83L337.40,190.01L337.90,190.20L338.40,190.38L338.90,190.57L339.40,190.77L339.90,190.96L340.00,191.00L340.40,191.16L340.90,191.35L341.40,191.55L341.90,191.75L342.40,191.95L342.90,192.14L343.40,192.34L343.90,192.54L344.40,192.74L344.90,192.94L345.40,193.14L345.90,193.34L346.40,193.54L346.90,193.74L347.40,193.94L347.90,194.14L348.40,194.34L348.90,194.55L349.40,194.75L349.90,194.95L350.40,195.16L350.90,195.36L351.40,195.56L351.90,195.77L352.40,195.97L352.90,196.18L353.40,196.38L353.90,196.59L354.40,196.80L354.90,197.00L355.40,197.21L355.90,197.42L356.40,197.63L356.90,197.84L357.40,198.05L357.90,198.26L358.40,198.47L358.90,198.68L359.40,198.89L359.90,199.10L360.40,199.32L360.90,199.53L361.40,199.74L361.90,199.96L362.00,200.00" stroke="#ff8000"/>
<path d="M66.00,234.00L66.50,229.31L67.00,224.74L67.50,220.29L68.00,215.99L68.04,215.69L68.50,211.82L69.00,207.76L69.50,203.82L70.00,200.02L70.07,199.49L70.50,196.36L71.00,192.79L71.50,189.33L72.00,186.01L72.11,185.32L72.50,182.82L73.00,179.72L73.50,176.73L74.00,173.86L74.14,173.07L74.50,171.12L75.00,168.46L75.50,165.91L76.00,163.47L76.18,162.63L76.50,161.15L77.00,158.91L77.50,156.76L78.00,154.72L78.21,153.89L78.50,152.80L79.00,150.95L79.50,149.19L80.00,147.52L80.25,146.74L80.50,145.97L81.00,144.48L81.50,143.07L82.00,141.75L82.29,141.04L82.50,140.53L83.00,139.38L83.50,138.29L84.00,137.28L84.32,136.69L84.50,136.37L85.00,135.52L85.50,134.71L86.00,133.98L86.36,133.52L86.50,133.35L87.00,132.76L87.50,132.21L88.00,131.73L88.39,131.40L88.50,131.32L89.00,130.96L89.50,130.63L90.00,130.35L90.43,130.16L90.50,130.14L91.00,129.97L91.50,129.81L92.00,129.69L92.46,129.61L92.50,129.61L93.00,129.55L93.50,129.52L94.00,129.50L94.50,129.50L95.00,129.52L95.50,129.55L96.00,129.59L96.50,129.64L97.00,129.70L97.50,129.77L98.00,129.84L98.50,129.93L99.00,130.02L99.50,130.12L100.00,130.23L100.50,130.35L101.00,130.47L101.50,130.60L102.00,130.73L102.50,130.87L103.00,131.02L103.50,131.17L104.00,131.33L104.50,131.49L105.00,131.66L105.50,131.83L106.00,132.00L106.50,132.19L107.00,132.40L107.50,132.64L108.00,132.89L108.50,133.17L109.00,133.46L109.50,133.77L110.00,134.09L110.50,134.42L111.00,134.77L111.50,135.12L112.00,135.49L112.50,135.86L113.00,136.23L113.50,136.60L114.00,136.98L114.50,137.36L115.00,137.73L115.50,138.10L116.00,138.47L116.50,138.83L117.00,139.18L117.50,139.52L118.00,139.84L118.50,140.16L119.00,140.45L119.50,140.74L120.00,141.00L120.50,141.25L121.00,141.51L121.50,141.76L122.00,142.02L122.50,142.27L123.00,142.53L123.50,142.78L124.00,143.03L124.50,143.28L125.00,143.52L125.50,143.76L126.00,144.00L126.50,144.23L127.00,144.46L127.50,144.69L128.00,144.90L128.50,145.11L129.00,145.32L129.50,145.52L130.00,145.71L130.50,145.89L131.00,146.06L131.50,146.23L132.00,146.39L132.50,146.53L133.00,146.67L133.50,146.79L134.00,146.91L134.50,147.01L135.00,147.10L135.50,147.18L136.00,147.26L136.50,147.33L137.00,147.39L137.50,147.45L138.00,147.50L138.50,147.55L139.00,147.60L139.50,147.63L140.00,147.67L140.50,147.69L141.00,147.72L141.50,147.74L142.00,147.75L142.50,147.76L143.00,147.77L143.50,147.77L144.00,147.76L144.50,147.76L145.00,147.75L145.50,147.73L146.00,147.71L146.50,147.69L147.00,147.66L147.50,147.63L148.00,147.60L148.50,147.56L149.00,147.52L149.50,147.48L150.00,147.43L150.50,147.38L151.00,147.33L151.50,147.27L152.00,147.22L152.50,147.16L153.00,147.09L153.50,147.03L154.00,146.96L154.50,146.89L155.00,146.82L155.50,146.74L156.00,146.67L156.50,146.59L157.00,146.51L157.50,146.43L158.00,146.35L158.50,146.26L159.00,146.18L159.50,146.09L160.00,146.00L160.50,145.90L161.00,145.80L161.50,145.68L162.00,145.55L162.50,145.40L163.00,145.25L163.50,145.08L164.00,144.91L164.50,144.72L165.00,144.52L165.50,144.32L166.00,144.10L166.50,143.88L167.00,143.65L167.50,143.41L168.00,143.16L168.50,142.90L169.00,142.64L169.50,142.36L170.00,142.09L170.50,141.80L171.00,141.51L171.50,141.21L172.00,140.91L172.50,140.60L173.00,140.29L173.50,139.97L174.00,139.65L174.50,139.33L175.00,139.00L175.50,138.66L176.00,138.29L176.50,137.91L177.00,137.50L177.50,137.08L178.00,136.63L178.50,136.17L179.00,135.69L179.50,135.20L180.00,134.69L180.50,134.17L181.00,133.63L181.50,133.09L182.00,132.53L182.50,131.96L183.00,131.39L183.50,130.81L184.00,130.22L184.50,129.62L185.00,129.02L185.50,128.42L186.00,127.82L186.50,127.21L187.00,126.60L187.50,125.99L188.00,125.39L188.50,124.79L189.00,124.19L189.50,123.59L190.00,123.00L190.50,122.41L191.00,121.81L191.50,121.20L192.00,120.58L192.50,119.96L193.00,119.33L193.50,118.69L194.00,118.05L194.50,117.40L195.00,116.75L195.50,116.09L196.00,115.42L196.50,114.76L197.00,114.08L197.50,113.41L198.00,112.73L198.50,112.05L199.00,111.37L199.50,110.69L200.00,110.00L200.50,109.31L201.00,108.63L201.50,107.94L202.00,107.25L202.50,106.55L203.00,105.86L203.50,105.15L204.00,104.44L204.50,103.72L205.00,102.99L205.50,102.25L206.00,101.50L206.50,100.74L207.00,99.97L207.50,99.18L208.00,98.38L208.50,97.56L209.00,96.73L209.50,95.87L210.00,95.00L210.50,94.08L211.00,93.10L211.50,92.06L212.00,90.97L212.50,89.84L213.00,88.67L213.50,87.48L214.00,86.26L214.50,85.04L215.00,83.81L215.50,82.59L216.00,81.37L216.50,80.18L217.00,79.01L217.50,77.88L218.00,76.79L218.50,75.75L219.00,74.76L219.50,73.84L220.00,73.00L220.50,72.21L221.00,71.45L221.50,70.72L222.00,70.01L222.50,69.32L223.00,68.65L223.50,68.01L224.00,67.37L224.50,66.75L225.00,66.14L225.50,65.53L226.00,64.93L226.50,64.33L227.00,63.73L227.50,63.13L228.00,62.53L228.50,61.91L229.00,61.29L229.50,60.65L230.00,60.00L230.50,59.34L231.00,58.69L231.50,58.04L232.00,57.39L232.50,56.74L233.00,56.09L233.50,55.43L234.00,54.77L234.50,54.09L235.00,53.41L235.50,52.71L236.00,52.00L236.50,51.26L237.00,50.48L237.50,49.67L238.00,48.86L238.50,48.05L239.00,47.26L239.50,46.50L240.00,45.69L240.50,44.83L241.00,44.08L241.50,43.59L241.90,43.50L242.00,43.53L242.50,44.03L243.00,44.96L243.50,46.14L244.00,47.38L244.50,48.50L245.00,49.48L245.50,50.44L246.00,51.41L246.50,52.40L247.00,53.44L247.50,54.55L247.90,55.50L248.00,55.75L248.50,57.08L249.00,58.54L249.50,60.09L250.00,61.69L250.50,63.32L251.00,64.94L251.50,66.51L252.00,68.00L252.50,69.44L253.00,70.89L253.50,72.34L254.00,73.79L254.50,75.24L255.00,76.69L255.50,78.13L256.00,79.57L256.50,80.99L257.00,82.41L257.50,83.82L258.00,85.21L258.50,86.59L259.00,87.94L259.50,89.28L260.00,90.60L260.50,91.90L261.00,93.18L261.50,94.42L262.00,95.64L262.50,96.83L262.70,97.30L263.00,98.00L263.50,99.14L264.00,100.28L264.50,101.39L265.00,102.48L265.50,103.54L266.00,104.58L266.50,105.58L267.00,106.55L267.50,107.48L268.00,108.37L268.50,109.21L269.00,110.00L269.50,110.75L270.00,111.45L270.50,112.12L271.00,112.76L271.50,113.38L272.00,113.98L272.50,114.57L273.00,115.14L273.50,115.72L274.00,116.30L274.50,116.89L275.00,117.49L275.50,118.11L276.00,118.76L276.50,119.43L276.90,120.00L277.00,120.15L277.50,120.88L278.00,121.64L278.50,122.42L279.00,123.21L279.50,124.01L280.00,124.82L280.50,125.64L281.00,126.47L281.50,127.29L282.00,128.12L282.50,128.95L283.00,129.77L283.50,130.59L284.00,131.39L284.50,132.19L285.00,132.97L285.50,133.74L286.00,134.49L286.50,135.21L286.70,135.50L287.00,135.92L287.50,136.63L288.00,137.33L288.50,138.03L289.00,138.73L289.50,139.42L290.00,140.11L290.50,140.78L291.00,141.45L291.50,142.11L292.00,142.76L292.50,143.40L293.00,144.03L293.50,144.64L294.00,145.24L294.50,145.82L295.00,146.39L295.50,146.95L296.00,147.48L296.50,148.00L297.00,148.50L297.50,149.00L298.00,149.49L298.50,149.98L299.00,150.46L299.50,150.94L300.00,151.40L300.50,151.87L301.00,152.33L301.50,152.78L302.00,153.23L302.50,153.68L303.00,154.12L303.50,154.56L304.00,155.00L304.50,155.43L305.00,155.86L305.50,156.29L306.00,156.71L306.50,157.13L307.00,157.55L307.50,157.97L308.00,158.39L308.50,158.80L309.00,159.22L309.50,159.63L310.00,160.04L310.50,160.45L311.00,160.86L311.50,161.27L312.00,161.68L312.50,162.09L313.00,162.51L313.50,162.92L313.60,163.00L314.00,163.33L314.50,163.75L315.00,164.16L315.50,164.58L316.00,165.00L316.50,165.42L317.00,165.84L317.50,166.27L318.00,166.69L318.50,167.11L319.00,167.53L319.50,167.96L320.00,168.38L320.50,168.80L321.00,169.22L321.50,169.64L322.00,170.06L322.50,170.48L323.00,170.90L323.50,171.31L324.00,171.73L324.50,172.14L325.00,172.55L325.50,172.95L326.00,173.36L326.50,173.76L327.00,174.16L327.50,174.56L328.00,174.95L328.50,175.34L329.00,175.72L329.50,176.11L330.00,176.48L330.50,176.86L331.00,177.23L331.50,177.59L332.00,177.95L332.50,178.31L333.00,178.66L333.50,179.00L334.00,179.34L334.50,179.67L335.00,180.00L335.50,180.32L336.00,180.64L336.50,180.96L337.00,181.27L337.50,181.57L338.00,181.88L338.50,182.18L339.00,182.47L339.50,182.76L340.00,183.05L340.50,183.34L341.00,183.62L341.50,183.90L342.00,184.18L342.50,184.45L343.00,184.73L343.50,185.00L344.00,185.26L344.50,185.53L345.00,185.79L345.50,186.05L346.00,186.31L346.50,186.56L347.00,186.81L347.50,187.07L348.00,187.32L348.50,187.56L349.00,187.81L349.50,188.06L350.00,188.30L350.50,188.54L351.00,188.79L351.50,189.03L352.00,189.27L352.50,189.51L353.00,189.75L353.50,189.98L354.00,190.22L354.50,190.46L355.00,190.69L355.50,190.92L356.00,191.15L356.50,191.38L357.00,191.60L357.50,191.82L358.00,192.04L358.50,192.26L359.00,192.48L359.50,192.69L360.00,192.90L360.50,193.10L361.00,193.31L361.50,193.50L362.00,193.70" stroke="#8000ff"/>
<path d="M63.80,234.00L64.30,229.52L64.80,225.16L65.30,220.93L65.80,216.82L65.89,216.12L66.30,212.83L66.80,208.95L67.30,205.18L67.80,201.54L67.97,200.32L68.30,198.02L68.80,194.60L69.30,191.28L69.80,188.08L70.06,186.49L70.30,185.00L70.80,182.02L71.30,179.14L71.80,176.36L72.14,174.53L72.30,173.70L72.80,171.13L73.30,168.66L73.80,166.29L74.23,164.34L74.30,164.02L74.80,161.84L75.30,159.75L75.80,157.76L76.30,155.86L76.31,155.81L76.80,154.05L77.30,152.32L77.80,150.68L78.30,149.12L78.40,148.82L78.80,147.66L79.30,146.26L79.80,144.94L80.30,143.70L80.49,143.27L80.80,142.55L81.30,141.46L81.80,140.44L82.30,139.49L82.57,139.01L82.80,138.63L83.30,137.81L83.80,137.06L84.30,136.37L84.66,135.93L84.80,135.76L85.30,135.19L85.80,134.67L86.30,134.21L86.74,133.86L86.80,133.82L87.30,133.47L87.80,133.15L88.30,132.87L88.80,132.66L88.83,132.65L89.30,132.48L89.80,132.33L90.30,132.20L90.80,132.12L90.91,132.11L91.30,132.08L91.80,132.04L92.30,132.01L92.80,132.00L93.00,132.00L93.30,132.00L93.80,132.00L94.30,132.00L94.80,132.00L95.30,132.00L95.80,132.00L96.30,132.00L96.80,132.00L97.30,132.00L97.80,132.00L98.30,132.00L98.80,132.00L99.30,132.00L99.80,132.00L100.30,132.00L100.80,132.00L101.00,132.00L101.30,132.00L101.80,131.99L102.30,131.96L102.80,131.93L103.30,131.89L103.80,131.84L104.30,131.79L104.80,131.73L105.30,131.66L105.80,131.58L106.30,131.50L106.80,131.42L107.30,131.33L107.80,131.24L108.30,131.15L108.80,131.06L109.30,130.96L109.80,130.86L110.30,130.77L110.80,130.67L111.30,130.58L111.80,130.49L112.30,130.40L112.80,130.32L113.30,130.24L113.80,130.16L114.30,130.09L114.80,130.02L115.00,130.00L115.30,129.97L115.80,129.91L116.30,129.86L116.80,129.81L117.30,129.76L117.80,129.71L118.30,129.67L118.80,129.63L119.30,129.59L119.80,129.55L120.30,129.51L120.80,129.47L121.30,129.43L121.80,129.39L122.30,129.35L122.80,129.31L123.30,129.27L123.80,129.23L124.30,129.19L124.80,129.14L125.30,129.09L125.80,129.04L126.30,128.99L126.80,128.94L127.30,128.88L127.80,128.82L128.30,128.75L128.80,128.68L129.30,128.61L129.80,128.53L130.00,128.50L130.30,128.44L130.80,128.30L131.30,128.13L131.80,127.94L132.30,127.73L132.80,127.53L133.30,127.34L133.80,127.18L134.30,127.07L134.80,127.01L135.00,127.00L135.30,127.03L135.80,127.21L136.30,127.50L136.80,127.89L137.30,128.32L137.80,128.77L138.30,129.20L138.80,129.56L139.30,129.84L139.80,129.99L140.00,130.00L140.30,129.99L140.80,129.95L141.30,129.88L141.80,129.78L142.30,129.66L142.80,129.52L143.30,129.37L143.80,129.21L144.30,129.04L144.80,128.87L145.00,128.80L145.30,128.69L145.80,128.48L146.30,128.23L146.80,127.95L147.30,127.66L147.80,127.35L148.30,127.03L148.80,126.71L149.30,126.41L149.80,126.11L150.00,126.00L150.30,125.83L150.80,125.50L151.30,125.16L151.80,124.80L152.30,124.44L152.80,124.11L153.30,123.81L153.80,123.57L154.30,123.40L154.80,123.31L155.00,123.30L155.30,123.40L155.80,123.95L156.30,124.78L156.80,125.70L157.30,126.49L157.80,126.95L158.00,127.00L158.30,126.95L158.80,126.69L159.30,126.26L159.80,125.72L160.30,125.17L160.80,124.65L161.30,124.24L161.80,124.02L162.00,124.00L162.30,124.07L162.80,124.44L163.30,125.00L163.80,125.62L164.30,126.16L164.80,126.47L165.00,126.50L165.30,126.47L165.80,126.29L166.30,126.00L166.80,125.61L167.30,125.18L167.80,124.73L168.30,124.30L168.80,123.94L169.30,123.66L169.80,123.51L170.00,123.50L170.30,123.53L170.80,123.67L171.30,123.92L171.80,124.24L172.30,124.60L172.80,124.97L173.30,125.33L173.80,125.64L174.30,125.87L174.80,125.99L175.00,126.00L175.30,125.99L175.80,125.91L176.30,125.78L176.80,125.59L177.30,125.36L177.80,125.08L178.30,124.77L178.80,124.43L179.30,124.06L179.80,123.68L180.30,123.30L180.80,122.91L181.30,122.52L181.80,122.15L182.00,122.00L182.30,121.78L182.80,121.39L183.30,120.97L183.80,120.54L184.30,120.08L184.80,119.61L185.30,119.12L185.80,118.61L186.30,118.09L186.80,117.56L187.30,117.02L187.80,116.47L188.30,115.91L188.80,115.35L189.30,114.79L189.80,114.23L190.00,114.00L190.30,113.66L190.80,113.08L191.30,112.49L191.80,111.88L192.30,111.27L192.80,110.64L193.30,110.00L193.80,109.36L194.30,108.71L194.80,108.04L195.30,107.38L195.80,106.71L196.30,106.03L196.80,105.35L197.30,104.67L197.80,103.99L198.30,103.31L198.80,102.63L199.30,101.95L199.80,101.27L200.00,101.00L200.30,100.60L200.80,99.93L201.30,99.26L201.80,98.60L202.30,97.94L202.80,97.28L203.30,96.61L203.80,95.95L204.30,95.28L204.80,94.60L205.30,93.92L205.80,93.23L206.30,92.54L206.80,91.83L207.30,91.11L207.80,90.38L208.30,89.64L208.80,88.88L209.30,88.11L209.80,87.32L210.00,87.00L210.30,86.51L210.80,85.65L211.30,84.76L211.80,83.83L212.30,82.87L212.80,81.89L213.30,80.88L213.80,79.86L214.30,78.84L214.80,77.80L215.30,76.77L215.80,75.74L216.30,74.73L216.80,73.73L217.30,72.74L217.80,71.79L218.30,70.86L218.80,69.97L219.30,69.12L219.80,68.31L220.00,68.00L220.30,67.54L220.80,66.76L221.30,65.96L221.80,65.15L222.30,64.33L222.80,63.50L223.30,62.66L223.80,61.83L224.30,60.99L224.80,60.15L225.30,59.32L225.80,58.50L226.30,57.68L226.80,56.87L227.30,56.08L227.80,55.31L228.30,54.56L228.80,53.82L229.30,53.11L229.80,52.43L230.30,51.77L230.80,51.15L231.30,50.56L231.80,50.01L232.30,49.49L232.80,49.02L233.30,48.59L233.80,48.21L234.30,47.87L234.80,47.59L235.30,47.35L235.80,47.18L236.30,47.06L236.80,47.01L237.00,47.00L237.30,47.03L237.80,47.22L238.30,47.56L238.80,48.05L239.30,48.68L239.80,49.44L240.30,50.31L240.80,51.29L241.30,52.36L241.80,53.51L242.30,54.74L242.80,56.03L243.30,57.37L243.80,58.75L244.30,60.16L244.80,61.59L245.30,63.03L245.80,64.47L246.30,65.89L246.80,67.29L247.30,68.66L247.80,69.98L248.30,71.25L248.80,72.45L249.30,73.58L249.80,74.61L250.00,75.00L250.30,75.57L250.80,76.51L251.30,77.45L251.80,78.39L252.30,79.32L252.80,80.24L253.30,81.16L253.80,82.07L254.30,82.96L254.80,83.85L255.30,84.73L255.80,85.60L256.30,86.45L256.80,87.29L257.30,88.12L257.80,88.93L258.30,89.73L258.80,90.51L259.30,91.28L259.80,92.02L260.30,92.75L260.80,93.46L260.90,93.60L261.30,94.15L261.80,94.81L262.30,95.45L262.80,96.07L263.30,96.68L263.80,97.27L264.30,97.85L264.80,98.41L265.30,98.97L265.80,99.52L266.30,100.07L266.80,100.62L267.30,101.17L267.80,101.72L268.30,102.28L268.80,102.85L269.30,103.43L269.80,104.02L270.30,104.62L270.80,105.25L271.00,105.50L271.30,105.89L271.80,106.57L272.30,107.28L272.80,108.01L273.30,108.76L273.80,109.52L274.30,110.28L274.80,111.03L275.30,111.78L275.80,112.50L276.30,113.20L276.80,113.87L277.30,114.49L277.80,115.07L278.20,115.50L278.30,115.60L278.80,116.10L279.30,116.59L279.80,117.06L280.30,117.52L280.80,117.96L281.30,118.39L281.80,118.81L282.30,119.22L282.80,119.61L283.30,120.00L283.80,120.37L284.30,120.74L284.80,121.09L285.30,121.44L285.80,121.78L286.30,122.10L286.80,122.42L287.30,122.74L287.40,122.80L287.80,123.05L288.30,123.35L288.80,123.65L289.30,123.94L289.80,124.23L290.30,124.51L290.80,124.78L291.30,125.05L291.80,125.31L292.30,125.57L292.80,125.82L293.30,126.06L293.80,126.29L294.30,126.51L294.80,126.73L295.30,126.94L295.80,127.14L296.30,127.33L296.50,127.40L296.80,127.51L297.30,127.69L297.80,127.86L298.30,128.03L298.80,128.20L299.30,128.36L299.80,128.53L300.30,128.68L300.80,128.84L301.30,128.99L301.80,129.14L302.30,129.28L302.80,129.42L303.30,129.56L303.80,129.70L304.30,129.83L304.80,129.96L305.30,130.08L305.80,130.21L306.30,130.32L306.80,130.44L307.30,130.55L307.80,130.66L308.30,130.77L308.80,130.87L309.30,130.97L309.80,131.06L310.00,131.10L310.30,131.16L310.80,131.25L311.30,131.34L311.80,131.44L312.30,131.53L312.80,131.63L313.30,131.72L313.80,131.82L314.30,131.91L314.80,132.00L315.30,132.10L315.80,132.19L316.30,132.28L316.80,132.37L317.30,132.46L317.80,132.55L318.30,132.63L318.80,132.72L319.30,132.80L319.80,132.88L320.30,132.96L320.80,133.03L321.30,133.11L321.80,133.18L322.30,133.24L322.80,133.31L323.30,133.37L323.80,133.43L324.30,133.48L324.80,133.53L325.30,133.58L325.80,133.62L326.30,133.66L326.80,133.69L327.30,133.72L327.80,133.75L328.30,133.77L328.80,133.78L329.30,133.79L329.80,133.80L330.00,133.80L330.30,133.80L330.80,133.79L331.30,133.78L331.80,133.76L332.30,133.74L332.80,133.71L333.30,133.68L333.80,133.64L334.30,133.60L334.80,133.56L335.30,133.51L335.80,133.47L336.30,133.42L336.80,133.37L337.30,133.32L337.80,133.27L338.30,133.22L338.80,133.17L339.30,133.12L339.80,133.08L340.30,133.03L340.80,132.99L341.30,132.95L341.80,132.92L342.30,132.89L342.80,132.86L343.30,132.84L343.80,132.82L344.30,132.81L344.80,132.80L345.00,132.80L345.30,132.80L345.80,132.80L346.30,132.81L346.80,132.82L347.30,132.84L347.80,132.86L348.30,132.88L348.80,132.91L349.30,132.94L349.80,132.97L350.30,133.00L350.80,133.04L351.30,133.09L351.80,133.13L352.30,133.18L352.80,133.23L353.30,133.29L353.80,133.35L354.30,133.41L354.80,133.47L355.30,133.54L355.80,133.61L356.30,133.68L356.80,133.76L357.30,133.84L357.80,133.92L358.30,134.00L358.80,134.09L359.30,134.18L359.80,134.27L360.30,134.36L360.80,134.46L361.30,134.56L361.80,134.66L362.00,134.70" stroke="#ff0080"/>
<path d="M62.20,234.00L62.70,229.62L63.20,225.33L63.70,221.15L64.20,217.11L64.33,216.09L64.70,213.19L65.20,209.36L65.70,205.65L66.20,202.05L66.46,200.25L66.70,198.58L67.20,195.20L67.70,191.92L68.20,188.75L68.59,186.39L68.70,185.71L69.20,182.76L69.70,179.89L70.20,177.13L70.70,174.48L70.71,174.41L71.20,171.94L71.70,169.47L72.20,167.09L72.70,164.83L72.84,164.20L73.20,162.66L73.70,160.57L74.20,158.56L74.70,156.64L74.97,155.65L75.20,154.84L75.70,153.10L76.20,151.43L76.70,149.85L77.10,148.66L77.20,148.37L77.70,146.96L78.20,145.61L78.70,144.33L79.20,143.15L79.23,143.09L79.70,142.05L80.20,140.99L80.70,140.00L81.20,139.09L81.36,138.83L81.70,138.27L82.20,137.48L82.70,136.74L83.20,136.08L83.49,135.73L83.70,135.49L84.20,134.94L84.70,134.43L85.20,133.98L85.61,133.66L85.70,133.60L86.20,133.26L86.70,132.95L87.20,132.67L87.70,132.46L87.74,132.45L88.20,132.30L88.70,132.15L89.20,132.02L89.70,131.93L89.87,131.91L90.20,131.87L90.70,131.83L91.20,131.80L91.70,131.79L92.00,131.80L92.20,131.81L92.70,131.85L93.20,131.91L93.70,131.99L94.20,132.08L94.70,132.18L95.20,132.29L95.70,132.41L96.20,132.53L96.70,132.66L97.20,132.78L97.70,132.91L98.20,133.02L98.70,133.13L99.20,133.23L99.70,133.32L100.20,133.39L100.70,133.45L101.20,133.49L101.70,133.50L102.00,133.50L102.20,133.49L102.70,133.47L103.20,133.43L103.70,133.38L104.20,133.32L104.70,133.24L105.20,133.15L105.70,133.06L106.20,132.95L106.70,132.83L107.20,132.71L107.70,132.57L108.20,132.43L108.70,132.29L109.20,132.14L109.70,131.98L110.20,131.82L110.70,131.65L111.20,131.48L111.70,131.31L112.20,131.14L112.70,130.97L113.20,130.80L113.70,130.63L114.20,130.46L114.70,130.29L115.20,130.12L115.70,129.96L116.20,129.80L116.70,129.65L117.20,129.50L117.70,129.36L118.20,129.22L118.70,129.09L119.20,128.97L119.70,128.86L120.20,128.76L120.70,128.67L121.20,128.59L121.70,128.52L121.90,128.50L122.20,128.47L122.70,128.41L123.20,128.36L123.70,128.30L124.20,128.25L124.70,128.20L125.20,128.15L125.70,128.10L126.20,128.05L126.70,128.00L127.20,127.95L127.70,127.91L128.20,127.86L128.70,127.82L129.20,127.77L129.70,127.73L130.20,127.69L130.70,127.65L131.20,127.61L131.70,127.57L132.20,127.53L132.70,127.49L133.20,127.45L133.70,127.41L134.20,127.38L134.70,127.34L135.20,127.31L135.70,127.27L136.20,127.24L136.70,127.21L137.20,127.17L137.70,127.14L138.20,127.11L138.70,127.08L139.20,127.05L139.70,127.02L140.00,127.00L140.20,126.99L140.70,126.96L141.20,126.93L141.70,126.90L142.20,126.87L142.70,126.85L143.20,126.82L143.70,126.79L144.20,126.77L144.70,126.74L145.20,126.72L145.70,126.69L146.20,126.67L146.70,126.65L147.20,126.62L147.70,126.60L148.20,126.58L148.70,126.55L149.20,126.53L149.70,126.51L150.20,126.49L150.70,126.47L151.20,126.45L151.70,126.43L152.20,126.41L152.70,126.39L153.20,126.37L153.70,126.35L154.20,126.33L154.70,126.32L155.20,126.30L155.70,126.28L156.20,126.26L156.70,126.25L157.20,126.23L157.70,126.21L158.20,126.20L158.70,126.18L159.20,126.17L159.70,126.15L160.20,126.14L160.70,126.12L161.20,126.11L161.70,126.09L162.20,126.08L162.70,126.06L163.20,126.05L163.70,126.04L164.20,126.02L164.70,126.01L165.00,126.00L165.20,126.00L165.70,126.00L166.20,126.02L166.70,126.05L167.20,126.10L167.70,126.16L168.20,126.23L168.70,126.31L169.20,126.40L169.70,126.50L170.20,126.61L170.70,126.72L171.20,126.84L171.70,126.96L172.20,127.09L172.70,127.21L173.20,127.34L173.70,127.47L174.20,127.59L174.70,127.71L175.20,127.83L175.70,127.94L176.20,128.04L176.70,128.14L177.20,128.22L177.70,128.30L178.20,128.37L178.70,128.42L179.20,128.46L179.70,128.49L180.00,128.50L180.20,128.50L180.70,128.43L181.20,128.29L181.70,128.08L182.20,127.81L182.70,127.47L183.20,127.08L183.70,126.63L184.20,126.15L184.70,125.62L185.20,125.06L185.70,124.47L186.20,123.86L186.70,123.23L187.20,122.59L187.70,121.94L188.20,121.29L188.70,120.64L189.20,119.99L189.70,119.37L190.00,119.00L190.20,118.76L190.70,118.13L191.20,117.47L191.70,116.80L192.20,116.10L192.70,115.39L193.20,114.66L193.70,113.91L194.20,113.15L194.70,112.38L195.20,111.60L195.70,110.82L196.20,110.02L196.70,109.23L197.20,108.43L197.70,107.63L198.20,106.83L198.70,106.04L199.20,105.25L199.70,104.47L200.00,104.00L200.20,103.69L200.70,102.92L201.20,102.15L201.70,101.38L202.20,100.62L202.70,99.85L203.20,99.08L203.70,98.31L204.20,97.53L204.70,96.75L205.20,95.96L205.70,95.17L206.20,94.37L206.70,93.57L207.20,92.75L207.70,91.93L208.20,91.10L208.70,90.25L209.20,89.40L209.70,88.53L210.00,88.00L210.20,87.64L210.70,86.73L211.20,85.78L211.70,84.80L212.20,83.80L212.70,82.78L213.20,81.74L213.70,80.69L214.20,79.63L214.70,78.57L215.20,77.50L215.70,76.44L216.20,75.38L216.70,74.34L217.20,73.31L217.70,72.30L218.20,71.31L218.70,70.35L219.20,69.42L219.70,68.52L220.00,68.00L220.20,67.66L220.70,66.78L221.20,65.88L221.70,64.96L222.20,64.03L222.70,63.10L223.20,62.16L223.70,61.22L224.20,60.29L224.70,59.37L225.20,58.46L225.70,57.58L226.20,56.72L226.70,55.90L227.20,55.10L227.70,54.35L228.20,53.64L228.70,52.98L229.20,52.37L229.70,51.82L230.20,51.34L230.70,50.92L231.20,50.57L231.70,50.30L232.20,50.12L232.70,50.02L233.00,50.00L233.20,50.01L233.70,50.07L234.20,50.20L234.70,50.39L235.20,50.64L235.70,50.94L236.20,51.28L236.70,51.67L237.20,52.09L237.70,52.54L238.20,53.02L238.70,53.53L239.20,54.04L239.70,54.57L240.20,55.11L240.70,55.64L241.20,56.17L241.70,56.69L242.00,57.00L242.20,57.20L242.70,57.72L243.20,58.25L243.70,58.79L244.20,59.34L244.70,59.89L245.20,60.46L245.70,61.03L246.20,61.60L246.70,62.18L247.20,62.76L247.70,63.34L248.20,63.92L248.70,64.50L249.20,65.08L249.70,65.66L250.00,66.00L250.20,66.23L250.70,66.81L251.20,67.40L251.70,68.00L252.20,68.60L252.70,69.21L253.20,69.83L253.70,70.45L254.20,71.06L254.70,71.68L255.20,72.30L255.70,72.91L256.20,73.52L256.70,74.13L257.20,74.73L257.70,75.32L258.20,75.90L258.70,76.47L259.20,77.03L259.70,77.58L260.20,78.11L260.70,78.62L261.20,79.12L261.70,79.60L262.20,80.05L262.70,80.45L263.20,80.83L263.70,81.18L264.20,81.50L264.70,81.82L265.20,82.13L265.70,82.44L266.20,82.77L266.70,83.10L267.20,83.47L267.70,83.86L268.10,84.20L268.20,84.29L268.70,84.75L269.20,85.23L269.70,85.72L270.20,86.24L270.70,86.76L271.20,87.29L271.70,87.82L272.20,88.36L272.70,88.89L272.80,89.00L273.20,89.43L273.70,89.97L274.20,90.52L274.70,91.07L275.20,91.63L275.70,92.19L276.20,92.76L276.70,93.33L277.20,93.90L277.70,94.47L278.20,95.04L278.70,95.61L279.20,96.17L279.70,96.73L280.20,97.29L280.70,97.85L281.20,98.39L281.70,98.93L282.20,99.46L282.70,99.99L283.20,100.50L283.70,101.00L284.20,101.49L284.70,101.98L285.20,102.45L285.70,102.93L286.20,103.39L286.70,103.85L287.20,104.31L287.70,104.76L288.20,105.21L288.70,105.65L289.20,106.09L289.70,106.53L290.20,106.96L290.70,107.39L291.20,107.82L291.70,108.25L292.20,108.68L292.70,109.11L292.80,109.20L293.20,109.54L293.70,109.98L294.20,110.41L294.70,110.85L295.20,111.29L295.70,111.72L296.20,112.16L296.70,112.59L297.20,113.03L297.70,113.46L298.20,113.89L298.70,114.31L299.20,114.73L299.70,115.15L300.20,115.56L300.70,115.96L301.20,116.36L301.70,116.75L302.20,117.13L302.70,117.51L303.20,117.87L303.70,118.23L303.80,118.30L304.20,118.58L304.70,118.93L305.20,119.29L305.70,119.64L306.20,119.99L306.70,120.34L307.20,120.69L307.70,121.03L308.20,121.37L308.70,121.70L309.20,122.02L309.70,122.34L310.20,122.64L310.70,122.94L311.20,123.22L311.70,123.50L312.20,123.75L312.70,124.00L313.20,124.23L313.70,124.44L314.20,124.63L314.70,124.80L315.00,124.90L315.20,124.96L315.70,125.11L316.20,125.25L316.70,125.38L317.20,125.50L317.70,125.62L318.20,125.74L318.70,125.85L319.20,125.95L319.70,126.05L320.20,126.14L320.70,126.23L321.20,126.32L321.70,126.40L322.20,126.48L322.70,126.55L323.20,126.62L323.70,126.69L324.20,126.75L324.70,126.82L325.20,126.88L325.70,126.94L326.20,127.00L326.70,127.06L327.20,127.11L327.70,127.17L328.20,127.23L328.70,127.28L329.20,127.34L329.70,127.40L330.20,127.46L330.70,127.52L331.20,127.58L331.70,127.64L332.20,127.71L332.70,127.77L333.20,127.84L333.70,127.92L334.20,127.99L334.70,128.07L335.20,128.15L335.70,128.24L336.20,128.33L336.70,128.43L337.20,128.53L337.70,128.64L338.20,128.75L338.70,128.87L339.20,128.99L339.70,129.12L340.00,129.20L340.20,129.25L340.70,129.39L341.20,129.54L341.70,129.68L342.20,129.82L342.70,129.97L343.20,130.12L343.70,130.27L344.20,130.43L344.70,130.58L345.20,130.74L345.70,130.90L346.20,131.06L346.70,131.22L347.20,131.39L347.70,131.55L348.20,131.72L348.70,131.89L349.20,132.07L349.70,132.24L350.20,132.42L350.70,132.59L351.20,132.77L351.70,132.95L352.20,133.14L352.70,133.32L353.20,133.50L353.70,133.69L354.20,133.88L354.70,134.07L355.20,134.26L355.70,134.46L356.20,134.65L356.70,134.85L357.20,135.04L357.70,135.24L358.20,135.44L358.70,135.64L359.20,135.84L359.70,136.05L360.20,136.25L360.70,136.46L361.20,136.67L361.70,136.87L362.00,137.00" stroke="#7fbf00"/>
<path d="M61.30,234.00L61.80,229.79L62.30,225.67L62.80,221.66L63.30,217.77L63.49,216.30L63.80,213.99L64.30,210.31L64.80,206.72L65.30,203.25L65.69,200.65L65.80,199.89L66.30,196.63L66.80,193.45L67.30,190.37L67.80,187.41L67.88,186.95L68.30,184.55L68.80,181.76L69.30,179.06L69.80,176.47L70.07,175.11L70.30,173.99L70.80,171.58L71.30,169.24L71.80,167.00L72.26,165.02L72.30,164.87L72.80,162.82L73.30,160.83L73.80,158.93L74.30,157.12L74.46,156.57L74.80,155.40L75.30,153.75L75.80,152.16L76.30,150.65L76.65,149.66L76.80,149.25L77.30,147.90L77.80,146.60L78.30,145.38L78.80,144.25L78.84,144.16L79.30,143.19L79.80,142.17L80.30,141.21L80.80,140.33L81.04,139.95L81.30,139.53L81.80,138.76L82.30,138.05L82.80,137.39L83.23,136.89L83.30,136.81L83.80,136.28L84.30,135.77L84.80,135.31L85.30,134.92L85.42,134.84L85.80,134.59L86.30,134.27L86.80,133.99L87.30,133.76L87.61,133.64L87.80,133.58L88.30,133.43L88.80,133.29L89.30,133.18L89.80,133.11L89.81,133.11L90.30,133.07L90.80,133.06L91.30,133.06L91.80,133.02L92.00,133.00L92.30,132.96L92.80,132.88L93.30,132.80L93.80,132.71L94.30,132.62L94.80,132.53L95.30,132.44L95.80,132.34L96.30,132.24L96.80,132.13L97.30,132.02L97.80,131.91L98.30,131.80L98.80,131.69L99.30,131.57L99.80,131.45L100.30,131.33L100.80,131.20L101.30,131.08L101.80,130.95L102.30,130.82L102.80,130.69L103.30,130.56L103.80,130.43L104.30,130.30L104.80,130.17L105.30,130.03L105.80,129.90L106.30,129.76L106.80,129.63L107.30,129.49L107.80,129.36L108.30,129.22L108.80,129.09L109.30,128.95L109.80,128.82L110.30,128.69L110.80,128.55L111.00,128.50L111.30,128.42L111.80,128.29L112.30,128.15L112.80,128.01L113.30,127.87L113.80,127.72L114.30,127.58L114.80,127.43L115.30,127.28L115.80,127.13L116.30,126.97L116.80,126.82L117.30,126.66L117.80,126.50L118.30,126.34L118.80,126.18L119.30,126.02L119.80,125.86L120.30,125.70L120.80,125.53L121.30,125.37L121.80,125.20L122.30,125.04L122.80,124.87L123.30,124.71L123.80,124.54L124.30,124.38L124.80,124.21L125.30,124.05L125.80,123.88L126.30,123.72L126.80,123.55L127.30,123.39L127.80,123.23L128.30,123.07L128.80,122.91L129.30,122.75L129.80,122.60L130.30,122.44L130.80,122.29L131.30,122.13L131.80,121.98L132.30,121.84L132.80,121.69L133.30,121.54L133.80,121.40L134.30,121.26L134.80,121.13L135.30,120.99L135.80,120.86L136.30,120.73L136.80,120.60L137.30,120.48L137.80,120.36L138.30,120.24L138.80,120.13L139.30,120.02L139.80,119.91L140.30,119.81L140.80,119.71L141.30,119.62L141.40,119.60L141.80,119.53L142.30,119.44L142.80,119.35L143.30,119.27L143.80,119.18L144.30,119.10L144.80,119.03L145.30,118.95L145.80,118.88L146.30,118.80L146.80,118.73L147.30,118.66L147.80,118.60L148.30,118.53L148.80,118.47L149.30,118.40L149.80,118.34L150.30,118.28L150.80,118.22L151.30,118.17L151.80,118.11L152.30,118.05L152.80,118.00L153.30,117.95L153.80,117.89L154.30,117.84L154.80,117.79L155.30,117.74L155.80,117.69L156.30,117.65L156.80,117.60L157.30,117.55L157.80,117.50L158.30,117.46L158.80,117.41L159.30,117.36L159.80,117.32L160.00,117.30L160.30,117.27L160.80,117.23L161.30,117.20L161.80,117.17L162.30,117.15L162.80,117.13L163.30,117.11L163.80,117.10L164.30,117.09L164.80,117.08L165.30,117.08L165.80,117.08L166.30,117.08L166.80,117.09L167.30,117.09L167.80,117.10L168.30,117.11L168.80,117.12L169.30,117.13L169.80,117.14L170.30,117.15L170.80,117.17L171.30,117.18L171.80,117.19L172.30,117.20L172.80,117.20L173.30,117.21L173.80,117.21L174.30,117.22L174.80,117.22L175.30,117.21L175.80,117.21L176.30,117.20L176.80,117.19L177.30,117.17L177.80,117.15L178.30,117.12L178.80,117.09L179.30,117.06L179.80,117.02L180.00,117.00L180.30,116.97L180.80,116.89L181.30,116.78L181.80,116.65L182.30,116.50L182.80,116.31L183.30,116.11L183.80,115.89L184.30,115.64L184.80,115.38L185.30,115.09L185.80,114.80L186.30,114.48L186.80,114.16L187.30,113.82L187.80,113.47L188.30,113.11L188.80,112.74L189.30,112.37L189.80,111.99L190.30,111.60L190.80,111.21L191.30,110.82L191.80,110.43L192.30,110.04L192.80,109.65L193.30,109.27L193.80,108.89L194.30,108.51L194.80,108.14L195.00,108.00L195.30,107.78L195.80,107.40L196.30,107.01L196.80,106.61L197.30,106.19L197.80,105.75L198.30,105.30L198.80,104.84L199.30,104.36L199.80,103.87L200.30,103.37L200.80,102.85L201.30,102.32L201.80,101.77L202.30,101.22L202.80,100.65L203.30,100.07L203.80,99.47L204.30,98.87L204.80,98.25L205.00,98.00L205.30,97.61L205.80,96.93L206.30,96.19L206.80,95.42L207.30,94.60L207.80,93.76L208.30,92.88L208.80,91.98L209.30,91.07L209.80,90.14L210.30,89.20L210.80,88.25L211.30,87.31L211.80,86.37L212.00,86.00L212.30,85.44L212.80,84.49L213.30,83.52L213.80,82.53L214.30,81.53L214.80,80.52L215.30,79.51L215.80,78.48L216.30,77.46L216.80,76.43L217.30,75.40L217.80,74.38L218.30,73.37L218.80,72.36L219.30,71.37L219.80,70.39L220.00,70.00L220.30,69.42L220.80,68.45L221.30,67.47L221.80,66.50L222.30,65.52L222.80,64.56L223.30,63.59L223.80,62.64L224.30,61.71L224.80,60.79L225.30,59.88L225.80,59.00L226.30,58.15L226.80,57.32L227.00,57.00L227.30,56.51L227.80,55.64L228.30,54.74L228.80,53.83L229.30,52.96L229.80,52.14L230.30,51.41L230.80,50.80L231.30,50.33L231.80,50.05L232.30,49.97L232.50,50.00L232.80,50.12L233.30,50.51L233.80,51.09L234.30,51.80L234.80,52.61L235.30,53.45L235.80,54.30L236.30,55.08L236.80,55.77L237.00,56.00L237.30,56.33L237.80,56.85L238.30,57.35L238.80,57.84L239.30,58.32L239.80,58.80L240.30,59.28L240.80,59.76L241.30,60.26L241.80,60.79L242.00,61.00L242.30,61.33L242.80,61.88L243.30,62.43L243.80,62.99L244.30,63.56L244.80,64.13L245.30,64.71L245.80,65.29L246.30,65.87L246.80,66.45L247.30,67.04L247.80,67.63L248.30,68.22L248.80,68.81L249.30,69.40L249.80,69.99L250.30,70.58L250.80,71.17L251.30,71.75L251.80,72.34L252.30,72.92L252.80,73.50L253.30,74.07L253.80,74.65L254.30,75.21L254.80,75.78L255.00,76.00L255.30,76.33L255.80,76.89L256.30,77.45L256.80,78.02L257.30,78.58L257.80,79.14L258.30,79.71L258.80,80.27L259.30,80.84L259.80,81.40L260.30,81.97L260.80,82.53L261.30,83.10L261.80,83.66L262.30,84.23L262.80,84.79L263.30,85.36L263.80,85.92L264.30,86.48L264.80,87.04L265.30,87.60L265.80,88.15L266.30,88.71L266.80,89.26L267.30,89.81L267.80,90.36L268.30,90.91L268.80,91.45L269.30,91.99L269.80,92.53L270.30,93.06L270.80,93.59L271.30,94.12L271.80,94.65L272.30,95.17L272.80,95.69L273.30,96.20L273.80,96.71L274.30,97.22L274.80,97.72L275.30,98.22L275.80,98.71L276.30,99.20L276.80,99.68L277.30,100.15L277.80,100.63L278.20,101.00L278.30,101.09L278.80,101.55L279.30,102.01L279.80,102.46L280.30,102.90L280.80,103.34L281.30,103.77L281.80,104.19L282.30,104.61L282.80,105.02L283.30,105.43L283.80,105.83L284.30,106.22L284.80,106.60L285.30,106.98L285.80,107.36L286.30,107.72L286.80,108.08L287.30,108.43L287.40,108.50L287.80,108.78L288.30,109.14L288.80,109.52L289.30,109.89L289.80,110.27L290.30,110.65L290.80,111.03L291.30,111.40L291.80,111.76L292.30,112.10L292.80,112.43L293.30,112.73L293.80,113.02L294.30,113.27L294.80,113.50L295.30,113.69L295.80,113.85L296.30,113.97L296.50,114.00L296.80,114.05L297.30,114.12L297.80,114.19L298.30,114.25L298.80,114.31L299.30,114.37L299.80,114.41L300.30,114.46L300.80,114.49L301.30,114.52L301.80,114.54L302.30,114.56L302.80,114.57L303.30,114.57L303.80,114.56L304.30,114.54L304.80,114.51L305.00,114.50L305.30,114.48L305.80,114.43L306.30,114.38L306.80,114.33L307.30,114.27L307.80,114.20L308.30,114.13L308.80,114.05L309.30,113.98L309.80,113.90L310.30,113.81L310.80,113.73L311.30,113.65L311.80,113.56L312.30,113.48L312.80,113.40L313.30,113.32L313.80,113.25L314.30,113.17L314.80,113.11L315.30,113.04L315.80,112.99L316.30,112.93L316.80,112.89L317.30,112.85L317.80,112.82L318.30,112.80L318.80,112.79L319.30,112.78L319.80,112.79L320.00,112.80L320.30,112.81L320.80,112.84L321.30,112.87L321.80,112.91L322.30,112.95L322.80,112.99L323.30,113.05L323.80,113.10L324.30,113.17L324.80,113.23L325.30,113.30L325.80,113.37L326.30,113.45L326.80,113.53L327.30,113.61L327.80,113.70L328.30,113.79L328.80,113.88L329.30,113.97L329.80,114.06L330.30,114.16L330.80,114.26L331.30,114.36L331.80,114.45L332.30,114.55L332.80,114.65L333.30,114.76L333.80,114.86L334.30,114.96L334.80,115.06L335.30,115.15L335.80,115.25L336.30,115.35L336.80,115.44L337.30,115.54L337.80,115.63L338.30,115.72L338.80,115.80L339.30,115.89L339.80,115.97L340.00,116.00L340.30,116.05L340.80,116.13L341.30,116.20L341.80,116.28L342.30,116.36L342.80,116.44L343.30,116.52L343.80,116.59L344.30,116.67L344.80,116.75L345.30,116.83L345.80,116.91L346.30,116.98L346.80,117.06L347.30,117.14L347.80,117.22L348.30,117.29L348.80,117.37L349.30,117.45L349.80,117.53L350.30,117.60L350.80,117.68L351.30,117.76L351.80,117.84L352.30,117.91L352.80,117.99L353.30,118.07L353.80,118.15L354.30,118.22L354.80,118.30L355.30,118.38L355.80,118.45L356.30,118.53L356.80,118.61L357.30,118.68L357.80,118.76L358.30,118.84L358.80,118.91L359.30,118.99L359.80,119.07L360.30,119.14L360.80,119.22L361.30,119.29L361.80,119.37L362.00,119.40" stroke="#c0c0c0"/>
<path d="M60.50,234.00L61.00,229.79L61.50,225.66L62.00,221.64L62.50,217.75L62.68,216.39L63.00,213.97L63.50,210.29L64.00,206.70L64.50,203.22L64.86,200.81L65.00,199.87L65.50,196.60L66.00,193.43L66.50,190.35L67.00,187.39L67.04,187.19L67.50,184.53L68.00,181.75L68.50,179.06L69.00,176.47L69.21,175.40L69.50,174.00L70.00,171.59L70.50,169.27L71.00,167.04L71.39,165.36L71.50,164.92L72.00,162.87L72.50,160.89L73.00,159.00L73.50,157.20L73.57,156.96L74.00,155.50L74.50,153.85L75.00,152.27L75.50,150.78L75.75,150.08L76.00,149.39L76.50,148.05L77.00,146.77L77.50,145.56L77.93,144.60L78.00,144.45L78.50,143.40L79.00,142.39L79.50,141.45L80.00,140.58L80.11,140.41L80.50,139.79L81.00,139.04L81.50,138.33L82.00,137.70L82.29,137.37L82.50,137.14L83.00,136.61L83.50,136.11L84.00,135.68L84.46,135.33L84.50,135.31L85.00,134.98L85.50,134.67L86.00,134.40L86.50,134.19L86.64,134.14L87.00,134.03L87.50,133.88L88.00,133.75L88.50,133.65L88.82,133.61L89.00,133.59L89.50,133.56L90.00,133.55L90.50,133.53L91.00,133.50L91.50,133.45L92.00,133.40L92.50,133.34L93.00,133.27L93.50,133.20L94.00,133.12L94.50,133.04L95.00,132.94L95.50,132.84L96.00,132.74L96.50,132.62L97.00,132.50L97.50,132.37L98.00,132.22L98.50,132.07L99.00,131.90L99.50,131.72L100.00,131.53L100.50,131.33L101.00,131.13L101.50,130.92L102.00,130.70L102.50,130.47L103.00,130.24L103.50,130.00L104.00,129.76L104.50,129.52L105.00,129.27L105.50,129.02L106.00,128.77L106.50,128.51L107.00,128.26L107.50,128.01L108.00,127.75L108.50,127.50L109.00,127.26L109.50,127.01L110.00,126.77L110.50,126.53L111.00,126.30L111.50,126.07L112.00,125.84L112.50,125.61L113.00,125.38L113.50,125.15L114.00,124.92L114.50,124.69L115.00,124.46L115.50,124.23L116.00,124.00L116.50,123.77L117.00,123.53L117.50,123.30L118.00,123.06L118.50,122.83L119.00,122.59L119.50,122.35L120.00,122.11L120.50,121.87L121.00,121.62L121.50,121.38L122.00,121.13L122.50,120.88L123.00,120.63L123.50,120.37L124.00,120.12L124.50,119.86L125.00,119.60L125.50,119.32L126.00,119.01L126.50,118.67L127.00,118.32L127.50,117.96L128.00,117.59L128.50,117.23L129.00,116.88L129.50,116.54L130.00,116.23L130.50,115.96L131.00,115.72L131.50,115.53L131.60,115.50L132.00,115.40L132.50,115.32L133.00,115.29L133.50,115.32L134.00,115.39L134.50,115.50L135.00,115.64L135.50,115.82L136.00,116.02L136.50,116.25L137.00,116.50L137.50,116.75L138.00,117.02L138.50,117.30L139.00,117.57L139.50,117.84L139.80,118.00L140.00,118.12L140.50,118.57L141.00,119.17L141.50,119.85L142.00,120.54L142.50,121.18L143.00,121.70L143.50,122.02L143.90,122.10L144.00,122.09L144.50,121.85L145.00,121.35L145.50,120.66L146.00,119.86L146.50,119.03L147.00,118.22L147.50,117.52L148.00,117.00L148.50,116.58L149.00,116.15L149.50,115.73L150.00,115.32L150.50,114.94L151.00,114.61L151.50,114.33L152.00,114.13L152.50,114.02L152.90,114.00L153.00,114.01L153.50,114.08L154.00,114.23L154.50,114.44L155.00,114.69L155.50,114.97L156.00,115.27L156.50,115.58L157.00,115.89L157.50,116.18L158.00,116.43L158.50,116.65L159.00,116.80L159.50,116.89L160.00,116.90L160.50,116.85L161.00,116.76L161.50,116.65L162.00,116.52L162.50,116.36L163.00,116.17L163.50,115.97L164.00,115.75L164.50,115.51L165.00,115.26L165.50,115.00L166.00,114.72L166.50,114.44L167.00,114.15L167.50,113.86L168.00,113.57L168.50,113.27L169.00,112.98L169.50,112.69L170.00,112.40L170.50,112.11L171.00,111.82L171.50,111.51L172.00,111.19L172.50,110.87L173.00,110.54L173.50,110.20L174.00,109.85L174.50,109.49L175.00,109.12L175.50,108.75L176.00,108.37L176.50,107.98L177.00,107.59L177.50,107.19L178.00,106.78L178.50,106.37L179.00,105.95L179.50,105.53L180.00,105.10L180.50,104.62L181.00,104.05L181.50,103.42L182.00,102.77L182.50,102.10L183.00,101.46L183.50,100.86L184.00,100.33L184.50,99.90L185.00,99.60L185.50,99.41L186.00,99.29L186.50,99.23L187.00,99.21L187.50,99.21L188.00,99.22L188.50,99.22L189.00,99.19L189.50,99.13L190.00,99.00L190.50,98.83L191.00,98.66L191.50,98.47L192.00,98.28L192.50,98.07L193.00,97.86L193.50,97.64L194.00,97.40L194.50,97.16L195.00,96.91L195.50,96.66L196.00,96.39L196.50,96.12L197.00,95.84L197.50,95.55L198.00,95.25L198.50,94.95L199.00,94.64L199.50,94.32L200.00,94.00L200.50,93.66L201.00,93.29L201.50,92.88L202.00,92.46L202.50,92.00L203.00,91.52L203.50,91.02L204.00,90.50L204.50,89.96L205.00,89.39L205.50,88.81L206.00,88.21L206.50,87.60L207.00,86.97L207.50,86.34L208.00,85.69L208.50,85.03L209.00,84.36L209.50,83.68L210.00,83.00L210.50,82.30L211.00,81.57L211.50,80.80L212.00,80.01L212.50,79.20L213.00,78.36L213.50,77.51L214.00,76.64L214.50,75.76L215.00,74.87L215.50,73.97L216.00,73.06L216.50,72.16L217.00,71.25L217.50,70.35L218.00,69.46L218.50,68.57L219.00,67.70L219.50,66.84L220.00,66.00L220.50,65.16L221.00,64.32L221.50,63.46L222.00,62.60L222.50,61.75L223.00,60.89L223.50,60.03L224.00,59.19L224.50,58.35L225.00,57.53L225.50,56.72L226.00,55.93L226.50,55.16L227.00,54.41L227.50,53.69L228.00,53.00L228.50,52.31L229.00,51.60L229.50,50.89L230.00,50.20L230.50,49.57L231.00,49.00L231.50,48.53L232.00,48.17L232.50,47.95L233.00,47.88L233.50,48.00L234.00,48.34L234.50,48.90L235.00,49.63L235.50,50.49L236.00,51.42L236.50,52.39L237.00,53.34L237.50,54.22L238.00,55.00L238.50,55.72L239.00,56.45L239.50,57.17L240.00,57.85L240.50,58.47L241.00,59.00L241.50,59.46L242.00,59.87L242.50,60.26L243.00,60.63L243.50,60.98L244.00,61.33L244.50,61.69L245.00,62.06L245.30,62.30L245.50,62.46L246.00,62.87L246.50,63.27L247.00,63.68L247.50,64.09L248.00,64.51L248.50,64.93L249.00,65.35L249.50,65.77L250.00,66.20L250.50,66.64L250.80,66.90L251.00,67.08L251.50,67.52L252.00,67.96L252.50,68.42L253.00,68.89L253.50,69.39L254.00,69.90L254.50,70.45L255.00,71.03L255.30,71.40L255.50,71.66L256.00,72.42L256.50,73.30L257.00,74.29L257.50,75.37L258.00,76.50L258.50,77.68L259.00,78.88L259.50,80.07L260.00,81.24L260.50,82.36L261.00,83.41L261.50,84.38L262.00,85.23L262.50,85.95L263.00,86.51L263.50,86.90L264.00,87.15L264.50,87.31L265.00,87.41L265.50,87.45L266.00,87.45L266.50,87.43L267.00,87.40L267.50,87.37L268.00,87.37L268.50,87.40L269.00,87.48L269.50,87.63L269.90,87.80L270.00,87.85L270.50,88.11L271.00,88.38L271.50,88.66L272.00,88.95L272.50,89.24L273.00,89.54L273.50,89.84L274.00,90.14L274.50,90.44L275.00,90.74L275.50,91.04L276.00,91.33L276.30,91.50L276.50,91.61L277.00,91.90L277.50,92.20L278.00,92.49L278.50,92.79L279.00,93.09L279.50,93.38L280.00,93.68L280.50,93.97L281.00,94.26L281.50,94.55L282.00,94.83L282.50,95.10L283.00,95.36L283.50,95.62L284.00,95.87L284.50,96.10L285.00,96.33L285.50,96.55L286.00,96.76L286.50,96.97L287.00,97.16L287.50,97.35L288.00,97.54L288.50,97.71L289.00,97.87L289.50,98.03L290.00,98.17L290.10,98.20L290.50,98.31L291.00,98.43L291.50,98.53L292.00,98.63L292.50,98.72L293.00,98.81L293.50,98.88L294.00,98.96L294.50,99.03L295.00,99.09L295.50,99.16L296.00,99.23L296.50,99.30L297.00,99.37L297.50,99.45L298.00,99.54L298.50,99.63L299.00,99.74L299.50,99.85L300.00,99.97L300.10,100.00L300.50,100.11L301.00,100.26L301.50,100.42L302.00,100.60L302.50,100.78L303.00,100.98L303.50,101.19L304.00,101.40L304.50,101.63L305.00,101.86L305.50,102.11L306.00,102.36L306.50,102.62L307.00,102.88L307.50,103.15L308.00,103.43L308.50,103.72L309.00,104.01L309.50,104.30L310.00,104.60L310.50,104.93L311.00,105.30L311.50,105.72L312.00,106.16L312.50,106.64L313.00,107.12L313.50,107.62L314.00,108.12L314.50,108.61L315.00,109.09L315.50,109.55L316.00,109.97L316.50,110.36L317.00,110.71L317.50,111.00L318.00,111.26L318.50,111.51L319.00,111.75L319.50,111.97L320.00,112.19L320.50,112.40L321.00,112.59L321.50,112.77L322.00,112.93L322.50,113.09L323.00,113.23L323.50,113.35L324.00,113.46L324.50,113.55L325.00,113.62L325.50,113.68L325.70,113.70L326.00,113.72L326.50,113.70L327.00,113.63L327.50,113.53L328.00,113.38L328.50,113.21L329.00,113.01L329.50,112.80L330.00,112.57L330.50,112.34L331.00,112.10L331.50,111.87L332.00,111.66L332.50,111.46L333.00,111.28L333.50,111.14L334.00,111.03L334.50,110.96L335.00,110.94L335.50,110.97L335.70,111.00L336.00,111.07L336.50,111.24L337.00,111.50L337.50,111.82L338.00,112.20L338.50,112.64L339.00,113.13L339.50,113.65L340.00,114.22L340.50,114.81L341.00,115.42L341.50,116.04L342.00,116.67L342.50,117.30L343.00,117.92L343.50,118.53L344.00,119.12L344.50,119.68L344.80,120.00L345.00,120.21L345.50,120.76L346.00,121.34L346.50,121.94L347.00,122.56L347.50,123.19L348.00,123.82L348.50,124.45L349.00,125.07L349.50,125.68L350.00,126.28L350.50,126.85L351.00,127.39L351.50,127.89L352.00,128.35L352.50,128.77L353.00,129.13L353.10,129.20L353.50,129.42L354.00,129.60L354.50,129.68L355.00,129.67L355.50,129.57L356.00,129.39L356.50,129.14L357.00,128.82L357.50,128.45L358.00,128.02L358.50,127.55L359.00,127.05L359.50,126.52L360.00,125.97L360.50,125.40L361.00,124.83L361.50,124.26L362.00,123.70" stroke="#808080"/>
<path d="M58.60,234.00L59.10,229.76L59.60,225.63L60.10,221.62L60.60,217.73L60.70,216.97L61.10,213.95L61.60,210.28L62.10,206.71L62.60,203.25L62.80,201.90L63.10,199.91L63.60,196.67L64.10,193.53L64.60,190.49L64.90,188.72L65.10,187.56L65.60,184.73L66.10,182.00L66.60,179.36L67.00,177.33L67.10,176.83L67.60,174.39L68.10,172.03L68.60,169.77L69.10,167.62L69.60,165.55L70.10,163.55L70.60,161.65L71.10,159.84L71.20,159.49L71.60,158.11L72.10,156.46L72.60,154.89L73.10,153.40L73.30,152.83L73.60,152.00L74.10,150.66L74.60,149.40L75.10,148.21L75.40,147.54L75.60,147.10L76.10,146.06L76.60,145.08L77.10,144.16L77.50,143.48L77.60,143.32L78.10,142.54L78.60,141.81L79.10,141.14L79.60,140.54L80.10,140.00L80.60,139.49L81.10,139.04L81.60,138.64L81.70,138.57L82.10,138.30L82.60,137.99L83.10,137.71L83.60,137.49L83.80,137.42L84.10,137.32L84.60,137.16L85.10,137.03L85.60,136.94L85.90,136.90L86.10,136.89L86.60,136.86L87.10,136.83L87.60,136.82L88.00,136.80L88.10,136.80L88.60,136.78L89.10,136.76L89.60,136.75L90.10,136.74L90.60,136.73L91.10,136.72L91.60,136.70L92.10,136.69L92.60,136.67L93.10,136.65L93.60,136.63L94.10,136.60L94.60,136.51L95.10,136.33L95.60,136.08L96.10,135.79L96.60,135.48L97.10,135.17L97.60,134.90L98.10,134.68L98.60,134.54L99.00,134.50L99.10,134.50L99.60,134.54L100.10,134.63L100.60,134.75L101.10,134.88L101.60,135.00L102.10,135.11L102.60,135.18L103.00,135.20L103.10,135.19L103.60,134.96L104.10,134.44L104.60,133.69L105.10,132.76L105.60,131.73L106.10,130.63L106.60,129.54L107.10,128.52L107.60,127.60L108.00,127.00L108.10,126.86L108.60,126.16L109.10,125.45L109.60,124.78L110.10,124.19L110.60,123.74L111.00,123.50L111.10,123.46L111.60,123.29L112.10,123.16L112.60,123.06L113.10,122.98L113.60,122.89L114.10,122.79L114.60,122.65L115.00,122.50L115.10,122.45L115.60,122.11L116.10,121.61L116.60,121.03L117.10,120.42L117.60,119.87L118.00,119.50L118.10,119.42L118.60,119.06L119.10,118.73L119.60,118.43L120.10,118.12L120.60,117.79L121.00,117.50L121.10,117.42L121.60,116.93L122.10,116.35L122.60,115.74L123.10,115.17L123.60,114.69L124.10,114.38L124.50,114.30L124.60,114.30L125.10,114.35L125.60,114.46L126.10,114.61L126.60,114.75L127.10,114.88L127.60,114.97L128.00,115.00L128.10,115.00L128.60,114.96L129.10,114.88L129.60,114.79L130.10,114.72L130.50,114.70L130.60,114.71L131.10,115.02L131.60,115.66L132.10,116.49L132.60,117.36L133.10,118.13L133.60,118.65L134.00,118.80L134.10,118.79L134.60,118.62L135.10,118.25L135.60,117.73L136.10,117.11L136.60,116.45L137.10,115.79L137.60,115.19L138.10,114.70L138.60,114.23L139.10,113.76L139.60,113.40L140.00,113.30L140.10,113.31L140.60,113.59L141.10,114.17L141.60,114.87L142.10,115.56L142.60,116.09L143.10,116.30L143.60,115.49L144.10,113.64L144.60,111.63L145.00,110.50L145.10,110.31L145.60,109.36L146.10,108.53L146.60,107.96L147.00,107.80L147.10,107.80L147.60,107.92L148.10,108.17L148.60,108.46L149.10,108.74L149.60,108.94L150.00,109.00L150.10,108.99L150.60,108.69L151.10,108.09L151.60,107.35L152.10,106.65L152.60,106.15L153.00,106.00L153.10,106.00L153.60,106.16L154.10,106.46L154.60,106.82L155.10,107.18L155.60,107.43L156.00,107.50L156.10,107.49L156.60,107.08L157.10,106.27L157.60,105.25L158.10,104.23L158.60,103.42L159.10,103.01L159.20,103.00L159.60,103.88L160.10,106.50L160.60,109.12L161.00,110.00L161.10,109.93L161.60,107.93L162.10,104.69L162.60,102.27L162.80,102.00L163.10,103.09L163.60,107.77L164.10,111.99L164.30,112.50L164.60,111.73L165.10,108.10L165.60,103.72L166.10,101.09L166.20,101.00L166.60,102.95L167.10,108.42L167.60,112.96L167.80,113.50L168.10,112.39L168.60,107.50L169.10,102.61L169.40,101.50L169.60,102.03L170.10,106.25L170.60,110.47L170.80,111.00L171.10,110.22L171.60,106.88L172.10,103.86L172.30,103.50L172.60,104.49L173.10,108.72L173.60,112.54L173.80,113.00L174.10,112.06L174.60,108.05L175.10,104.44L175.30,104.00L175.60,104.25L176.10,105.37L176.60,106.58L177.00,107.00L177.10,106.99L177.60,106.65L178.10,106.03L178.60,105.38L179.00,105.00L179.10,104.94L179.60,104.66L180.10,104.44L180.60,104.21L181.00,104.00L181.10,103.94L181.60,103.59L182.10,103.20L182.60,102.80L183.00,102.50L183.10,102.43L183.60,102.02L184.10,101.58L184.60,101.15L185.10,100.80L185.60,100.56L186.00,100.50L186.10,100.53L186.60,101.26L187.10,102.51L187.60,103.64L188.00,104.00L188.10,103.99L188.60,103.80L189.10,103.39L189.60,102.80L190.10,102.10L190.50,101.50L190.60,101.33L191.10,100.08L191.60,98.35L192.10,96.44L192.60,94.61L193.00,93.40L193.10,93.13L193.60,91.68L194.10,90.29L194.60,89.29L195.00,89.00L195.10,89.01L195.60,89.43L196.10,90.15L196.60,90.79L197.00,91.00L197.10,90.97L197.60,90.14L198.10,88.70L198.60,87.42L199.00,87.00L199.10,87.03L199.60,87.76L200.10,89.01L200.60,90.14L201.00,90.50L201.10,90.49L201.60,90.19L202.10,89.56L202.60,88.74L203.10,87.85L203.60,87.02L204.00,86.50L204.10,86.39L204.60,85.96L205.10,85.57L205.60,85.11L206.00,84.60L206.10,84.41L206.60,82.63L207.10,80.19L207.60,78.14L208.00,77.50L208.10,77.50L208.60,77.60L209.10,77.80L209.60,78.05L210.10,78.28L210.60,78.45L211.00,78.50L211.10,78.49L211.60,78.08L212.10,77.28L212.60,76.28L213.00,75.50L213.10,75.31L213.60,74.14L214.10,72.75L214.60,71.28L215.10,69.88L215.60,68.69L216.00,68.00L216.10,67.86L216.60,67.24L217.10,66.70L217.60,66.23L218.10,65.84L218.60,65.50L219.10,65.24L219.60,65.04L220.10,64.87L220.60,64.71L221.10,64.52L221.60,64.27L222.00,64.00L222.10,63.91L222.60,63.13L223.10,61.89L223.60,60.30L224.10,58.50L224.60,56.61L225.10,54.78L225.60,53.11L226.00,52.00L226.10,51.75L226.60,50.42L227.10,49.01L227.60,47.60L228.10,46.24L228.60,45.00L229.10,43.94L229.60,43.13L230.10,42.63L230.50,42.50L230.60,42.52L231.10,43.20L231.60,44.59L232.10,46.38L232.60,48.22L233.10,49.81L233.60,50.81L233.90,51.00L234.10,50.92L234.60,50.14L235.10,48.96L235.60,47.87L236.10,47.40L236.60,47.68L237.10,48.45L237.60,49.66L238.10,51.22L238.60,53.05L239.10,55.09L239.60,57.26L240.10,59.49L240.60,61.69L241.10,63.80L241.20,64.20L241.60,66.10L242.10,69.06L242.60,72.21L243.10,75.04L243.60,77.08L244.00,77.80L244.10,77.85L244.60,78.11L245.10,78.31L245.60,78.48L246.10,78.60L246.60,78.67L247.10,78.70L247.60,78.52L248.10,78.03L248.60,77.33L249.10,76.48L249.60,75.59L250.10,74.73L250.60,73.99L251.10,73.46L251.60,73.21L251.70,73.20L252.10,73.25L252.60,73.42L253.10,73.71L253.60,74.10L254.10,74.56L254.60,75.08L255.10,75.64L255.60,76.21L256.10,76.79L256.20,76.90L256.60,77.40L257.10,78.17L257.60,79.05L258.10,80.02L258.60,81.03L259.10,82.05L259.60,83.04L260.10,83.97L260.60,84.80L260.80,85.10L261.10,85.54L261.60,86.28L262.10,87.04L262.60,87.78L263.10,88.48L263.60,89.12L264.10,89.68L264.60,90.14L265.10,90.47L265.40,90.60L265.60,90.67L266.10,90.83L266.60,90.98L267.10,91.11L267.60,91.23L268.10,91.33L268.60,91.41L269.10,91.46L269.60,91.49L269.90,91.50L270.10,91.49L270.60,91.39L271.10,91.20L271.60,90.94L272.10,90.66L272.60,90.37L273.10,90.10L273.60,89.88L274.10,89.74L274.50,89.70L274.60,89.70L275.10,89.80L275.60,90.01L276.10,90.33L276.60,90.75L277.10,91.25L277.60,91.82L278.10,92.44L278.60,93.11L279.10,93.81L279.60,94.53L280.00,95.10L280.10,95.25L280.60,96.33L281.10,97.77L281.60,99.39L282.10,101.01L282.60,102.44L283.10,103.49L283.60,103.98L283.70,104.00L284.10,104.00L284.60,103.99L285.10,103.98L285.60,103.96L286.10,103.93L286.60,103.91L287.10,103.87L287.60,103.84L288.10,103.80L288.60,103.76L289.10,103.71L289.20,103.70L289.60,103.65L290.10,103.53L290.60,103.38L291.10,103.18L291.60,102.96L292.10,102.70L292.60,102.42L293.10,102.12L293.60,101.81L294.10,101.49L294.60,101.17L295.10,100.84L295.60,100.53L296.10,100.23L296.50,100.00L296.60,99.94L297.10,99.63L297.60,99.28L298.10,98.90L298.60,98.50L299.10,98.09L299.60,97.68L300.10,97.28L300.60,96.90L301.10,96.54L301.60,96.22L302.10,95.95L302.60,95.73L303.10,95.58L303.60,95.51L303.80,95.50L304.10,95.50L304.60,95.50L305.10,95.50L305.60,95.50L306.10,95.50L306.60,95.50L307.10,95.50L307.60,95.50L308.10,95.50L308.60,95.50L309.00,95.50L309.10,95.50L309.60,95.56L310.10,95.69L310.60,95.89L311.10,96.14L311.60,96.45L312.10,96.81L312.60,97.21L313.10,97.63L313.60,98.09L314.10,98.56L314.60,99.04L315.10,99.52L315.60,100.00L316.10,100.52L316.60,101.14L317.10,101.82L317.60,102.58L318.10,103.38L318.60,104.22L319.10,105.09L319.60,105.97L320.10,106.85L320.60,107.72L321.10,108.57L321.60,109.38L322.00,110.00L322.10,110.15L322.60,110.96L323.10,111.84L323.60,112.76L324.10,113.70L324.60,114.64L325.10,115.55L325.60,116.41L326.10,117.20L326.60,117.89L327.10,118.46L327.60,118.88L328.10,119.14L328.40,119.20L328.60,119.22L329.10,119.26L329.60,119.30L330.10,119.33L330.60,119.36L331.10,119.39L331.60,119.42L332.10,119.44L332.60,119.46L333.10,119.47L333.60,119.49L334.10,119.49L334.60,119.50L335.00,119.50L335.10,119.50L335.60,119.46L336.10,119.36L336.60,119.23L337.10,119.06L337.60,118.86L338.10,118.65L338.60,118.42L339.10,118.20L339.60,117.98L340.10,117.79L340.60,117.61L341.00,117.50L341.10,117.47L341.60,117.34L342.10,117.21L342.60,117.07L343.10,116.94L343.60,116.80L344.10,116.67L344.60,116.55L345.10,116.43L345.60,116.33L346.10,116.23L346.60,116.15L347.10,116.08L347.60,116.04L348.10,116.01L348.50,116.00L348.60,116.00L349.10,116.03L349.60,116.09L350.10,116.19L350.60,116.32L351.10,116.47L351.60,116.64L352.10,116.82L352.60,117.02L353.10,117.23L353.60,117.43L354.10,117.64L354.60,117.84L355.00,118.00L355.10,118.04L355.60,118.24L356.10,118.44L356.60,118.66L357.10,118.88L357.60,119.12L358.10,119.36L358.60,119.61L359.10,119.87L359.60,120.13L360.10,120.40L360.60,120.68L361.10,120.97L361.60,121.26L362.00,121.50" stroke="#2255ff"/>
</g>
<path d="M65.80,232.50 v-4 M65.80,2.50 v4 M115.64,232.50 v-4 M115.64,2.50 v4 M165.49,232.50 v-4 M165.49,2.50 v4 M215.33,232.50 v-4 M215.33,2.50 v4 M265.18,232.50 v-4 M265.18,2.50 v4 M315.02,232.50 v-4 M315.02,2.50 v4 M90.72,232.50 v-2.2 M90.72,2.50 v2.2 M140.57,232.50 v-2.2 M140.57,2.50 v2.2 M190.41,232.50 v-2.2 M190.41,2.50 v2.2 M240.26,232.50 v-2.2 M240.26,2.50 v2.2 M290.10,232.50 v-2.2 M290.10,2.50 v2.2 M339.95,232.50 v-2.2 M339.95,2.50 v2.2 M49.00,232.50 h4 M361.00,232.50 h-4 M49.00,222.75 h2.2 M361.00,222.75 h-2.2 M49.00,217.04 h2.2 M361.00,217.04 h-2.2 M49.00,212.99 h2.2 M361.00,212.99 h-2.2 M49.00,209.85 h2.2 M361.00,209.85 h-2.2 M49.00,207.29 h2.2 M361.00,207.29 h-2.2 M49.00,205.12 h2.2 M361.00,205.12 h-2.2 M49.00,203.24 h2.2 M361.00,203.24 h-2.2 M49.00,201.58 h2.2 M361.00,201.58 h-2.2 M49.00,200.10 h4 M361.00,200.10 h-4 M49.00,190.35 h2.2 M361.00,190.35 h-2.2 M49.00,184.64 h2.2 M361.00,184.64 h-2.2 M49.00,180.59 h2.2 M361.00,180.59 h-2.2 M49.00,177.45 h2.2 M361.00,177.45 h-2.2 M49.00,174.89 h2.2 M361.00,174.89 h-2.2 M49.00,172.72 h2.2 M361.00,172.72 h-2.2 M49.00,170.84 h2.2 M361.00,170.84 h-2.2 M49.00,169.18 h2.2 M361.00,169.18 h-2.2 M49.00,167.70 h4 M361.00,167.70 h-4 M49.00,157.95 h2.2 M361.00,157.95 h-2.2 M49.00,152.24 h2.2 M361.00,152.24 h-2.2 M49.00,148.19 h2.2 M361.00,148.19 h-2.2 M49.00,145.05 h2.2 M361.00,145.05 h-2.2 M49.00,142.49 h2.2 M361.00,142.49 h-2.2 M49.00,140.32 h2.2 M361.00,140.32 h-2.2 M49.00,138.44 h2.2 M361.00,138.44 h-2.2 M49.00,136.78 h2.2 M361.00,136.78 h-2.2 M49.00,135.30 h4 M361.00,135.30 h-4 M49.00,125.55 h2.2 M361.00,125.55 h-2.2 M49.00,119.84 h2.2 M361.00,119.84 h-2.2 M49.00,115.79 h2.2 M361.00,115.79 h-2.2 M49.00,112.65 h2.2 M361.00,112.65 h-2.2 M49.00,110.09 h2.2 M361.00,110.09 h-2.2 M49.00,107.92 h2.2 M361.00,107.92 h-2.2 M49.00,106.04 h2.2 M361.00,106.04 h-2.2 M49.00,104.38 h2.2 M361.00,104.38 h-2.2 M49.00,102.90 h4 M361.00,102.90 h-4 M49.00,93.15 h2.2 M361.00,93.15 h-2.2 M49.00,87.44 h2.2 M361.00,87.44 h-2.2 M49.00,83.39 h2.2 M361.00,83.39 h-2.2 M49.00,80.25 h2.2 M361.00,80.25 h-2.2 M49.00,77.69 h2.2 M361.00,77.69 h-2.2 M49.00,75.52 h2.2 M361.00,75.52 h-2.2 M49.00,73.64 h2.2 M361.00,73.64 h-2.2 M49.00,71.98 h2.2 M361.00,71.98 h-2.2 M49.00,70.50 h4 M361.00,70.50 h-4 M49.00,60.75 h2.2 M361.00,60.75 h-2.2 M49.00,55.04 h2.2 M361.00,55.04 h-2.2 M49.00,50.99 h2.2 M361.00,50.99 h-2.2 M49.00,47.85 h2.2 M361.00,47.85 h-2.2 M49.00,45.29 h2.2 M361.00,45.29 h-2.2 M49.00,43.12 h2.2 M361.00,43.12 h-2.2 M49.00,41.24 h2.2 M361.00,41.24 h-2.2 M49.00,39.58 h2.2 M361.00,39.58 h-2.2 M49.00,38.10 h4 M361.00,38.10 h-4 M49.00,28.35 h2.2 M361.00,28.35 h-2.2 M49.00,22.64 h2.2 M361.00,22.64 h-2.2 M49.00,18.59 h2.2 M361.00,18.59 h-2.2 M49.00,15.45 h2.2 M361.00,15.45 h-2.2 M49.00,12.89 h2.2 M361.00,12.89 h-2.2 M49.00,10.72 h2.2 M361.00,10.72 h-2.2 M49.00,8.84 h2.2 M361.00,8.84 h-2.2 M49.00,7.18 h2.2 M361.00,7.18 h-2.2 M49.00,5.70 h4 M361.00,5.70 h-4" stroke="#000" stroke-width="1.7" fill="none"/>
<rect x="49.0" y="2.5" width="312.0" height="230.0" fill="none" stroke="#000" stroke-width="2"/>
<g font-family="'Liberation Sans', sans-serif" font-size="12.1" fill="#000" text-anchor="middle">
<text x="65.80" y="247.3">300</text>
<text x="115.64" y="247.3">450</text>
<text x="165.49" y="247.3">600</text>
<text x="215.33" y="247.3">750</text>
<text x="265.18" y="247.3">900</text>
<text x="315.02" y="247.3">1050</text>
</g>
<g font-family="'Liberation Sans', sans-serif" fill="#000">
<text x="44" y="237.40" text-anchor="end" font-size="11.8">10<tspan font-size="8" dy="-5.2">−4</tspan></text>
<text x="44" y="205.00" text-anchor="end" font-size="11.8">10<tspan font-size="8" dy="-5.2">−3</tspan></text>
<text x="44" y="172.60" text-anchor="end" font-size="11.8">10<tspan font-size="8" dy="-5.2">−2</tspan></text>
<text x="44" y="140.20" text-anchor="end" font-size="11.8">10<tspan font-size="8" dy="-5.2">−1</tspan></text>
<text x="44" y="107.80" text-anchor="end" font-size="11.8">10<tspan font-size="8" dy="-5.2">0</tspan></text>
<text x="44" y="75.40" text-anchor="end" font-size="11.8">10<tspan font-size="8" dy="-5.2">1</tspan></text>
<text x="44" y="43.00" text-anchor="end" font-size="11.8">10<tspan font-size="8" dy="-5.2">2</tspan></text>
<text x="44" y="10.60" text-anchor="end" font-size="11.8">10<tspan font-size="8" dy="-5.2">3</tspan></text>
</g>
<text x="156" y="268.1" font-family="'Liberation Sans', sans-serif" font-size="13.55" fill="#000">Wavelengh (nm)</text>
<text transform="translate(9.6,176) rotate(-90)" x="0" y="0" font-family="'Liberation Sans', sans-serif" font-size="13.55" fill="#000">Intensity (arb. units)</text>
<text x="61.3" y="24.4" font-family="'Liberation Sans', sans-serif" font-size="13" fill="#000">(a)</text>
<g font-family="'Liberation Sans', sans-serif" font-size="10.4" fill="#000">
<path d="M361.8,6.40 H387.5" stroke="#000000" stroke-width="2"/>
<text x="389.8" y="10.80">50 nJ</text>
<path d="M361.8,19.49 H387.5" stroke="#ff0000" stroke-width="2"/>
<text x="389.8" y="23.86">100 nJ</text>
<path d="M361.8,32.58 H387.5" stroke="#00ff00" stroke-width="2"/>
<text x="389.8" y="36.92">150 nJ</text>
<path d="M361.8,45.67 H387.5" stroke="#0000ff" stroke-width="2"/>
<text x="389.8" y="49.98">200 nJ</text>
<path d="M361.8,58.76 H387.5" stroke="#00ffff" stroke-width="2"/>
<text x="389.8" y="63.04">230 nJ</text>
<path d="M361.8,71.85 H387.5" stroke="#ff00ff" stroke-width="2"/>
<text x="389.8" y="76.10">250 nJ</text>
<path d="M361.8,84.94 H387.5" stroke="#808000" stroke-width="2"/>
<text x="389.8" y="89.16">260 nJ</text>
<path d="M361.8,98.03 H387.5" stroke="#000080" stroke-width="2"/>
<text x="389.8" y="102.22">270 nJ</text>
<path d="M361.8,111.12 H387.5" stroke="#800080" stroke-width="2"/>
<text x="389.8" y="115.28">275 nJ</text>
<path d="M361.8,124.21 H387.5" stroke="#800000" stroke-width="2"/>
<text x="389.8" y="128.34">280 nJ</text>
<path d="M361.8,137.30 H387.5" stroke="#008000" stroke-width="2"/>
<text x="389.8" y="141.40">285 nJ</text>
<path d="M361.8,150.39 H387.5" stroke="#008080" stroke-width="2"/>
<text x="389.8" y="154.46">290 nJ</text>
<path d="M361.8,163.48 H387.5" stroke="#0000a0" stroke-width="2"/>
<text x="389.8" y="167.52">295 nJ</text>
<path d="M361.8,176.57 H387.5" stroke="#ff8000" stroke-width="2"/>
<text x="389.8" y="180.58">300 nJ</text>
<path d="M361.8,189.66 H387.5" stroke="#8000ff" stroke-width="2"/>
<text x="389.8" y="193.64">320 nJ</text>
<path d="M361.8,202.75 H387.5" stroke="#ff0080" stroke-width="2"/>
<text x="389.8" y="206.70">350 nJ</text>
<path d="M361.8,215.84 H387.5" stroke="#7fbf00" stroke-width="2"/>
<text x="389.8" y="219.76">370 nJ</text>
<path d="M361.8,228.93 H387.5" stroke="#c0c0c0" stroke-width="2"/>
<text x="389.8" y="232.82">400 nJ</text>
<path d="M361.8,242.02 H387.5" stroke="#808080" stroke-width="2"/>
<text x="389.8" y="245.88">450 nJ</text>
<path d="M361.8,255.11 H387.5" stroke="#2255ff" stroke-width="2"/>
<text x="389.8" y="258.94">500 nJ</text>
</g>
<path d="M494.10,232.40 v4 M494.10,2.50 v4.5 M525.36,232.40 v4 M525.36,2.50 v4.5 M556.61,232.40 v4 M556.61,2.50 v4.5 M587.87,232.40 v4 M587.87,2.50 v4.5 M619.12,232.40 v4 M619.12,2.50 v4.5 M650.38,232.40 v4 M650.38,2.50 v4.5 M681.63,232.40 v4 M681.63,2.50 v4.5 M712.88,232.40 v4 M712.88,2.50 v4.5 M744.14,232.40 v4 M744.14,2.50 v4.5 M775.39,232.40 v4 M775.39,2.50 v4.5 M509.73,232.40 v2.4 M509.73,2.50 v2.4 M540.98,232.40 v2.4 M540.98,2.50 v2.4 M572.24,232.40 v2.4 M572.24,2.50 v2.4 M603.49,232.40 v2.4 M603.49,2.50 v2.4 M634.75,232.40 v2.4 M634.75,2.50 v2.4 M666.00,232.40 v2.4 M666.00,2.50 v2.4 M697.26,232.40 v2.4 M697.26,2.50 v2.4 M728.51,232.40 v2.4 M728.51,2.50 v2.4 M759.77,232.40 v2.4 M759.77,2.50 v2.4 M478.50,23.70 h-4.4 M790.80,23.70 h-4 M478.50,67.48 h-4.4 M790.80,67.48 h-4 M478.50,111.26 h-4.4 M790.80,111.26 h-4 M478.50,155.04 h-4.4 M790.80,155.04 h-4 M478.50,198.82 h-4.4 M790.80,198.82 h-4 M478.50,45.59 h-2.4 M790.80,45.59 h-2.4 M478.50,89.37 h-2.4 M790.80,89.37 h-2.4 M478.50,133.15 h-2.4 M790.80,133.15 h-2.4 M478.50,176.93 h-2.4 M790.80,176.93 h-2.4 M478.50,220.71 h-2.4 M790.80,220.71 h-2.4" stroke="#000" stroke-width="1.7" fill="none"/>
<rect x="478.5" y="2.5" width="312.3" height="229.9" fill="none" stroke="#000" stroke-width="2"/>
<g font-family="'Liberation Sans', sans-serif" font-size="12.1" fill="#000" text-anchor="middle">
<text x="494.10" y="249.5">50</text>
<text x="525.36" y="249.5">100</text>
<text x="556.61" y="249.5">150</text>
<text x="587.87" y="249.5">200</text>
<text x="619.12" y="249.5">250</text>
<text x="650.38" y="249.5">300</text>
<text x="681.63" y="249.5">350</text>
<text x="712.88" y="249.5">400</text>
<text x="744.14" y="249.5">450</text>
<text x="775.39" y="249.5">500</text>
</g>
<g font-family="'Liberation Sans', sans-serif" font-size="12.1" fill="#000" text-anchor="end">
<text x="470.3" y="27.80">300</text>
<text x="470.3" y="71.58">400</text>
<text x="470.3" y="115.36">500</text>
<text x="470.3" y="159.14">600</text>
<text x="470.3" y="202.92">700</text>
</g>
<text x="567.6" y="270.8" font-family="'Liberation Sans', sans-serif" font-size="13.55" fill="#000">Input laser energy (nJ)</text>
<text transform="translate(441.5,189.4) rotate(-90)" font-family="'Liberation Sans', sans-serif" font-size="13.55" fill="#000">Cut-off wavelength (nm)</text>
<text x="486.8" y="24.4" font-family="'Liberation Sans', sans-serif" font-size="13" fill="#000">(b)</text>
<path d="M494.10,222.20 L525.30,214.90 L556.60,209.80 L588.20,192.30 L606.30,177.80 L618.60,157.40 L625.70,142.30 L631.40,116.60 L637.50,60.90 L644.20,43.40 L650.30,36.80 L662.30,30.20 L681.30,25.70 L694.20,23.90 L712.60,22.50 L744.20,21.40 L775.40,20.60" stroke="#0000ff" stroke-width="1" fill="none"/>
<path d="M487.30,223.60 L626.10,195.50" stroke="#ff0000" stroke-width="2" fill="none"/>
<path d="M630.80,27.80 L781.80,19.20" stroke="#ff0000" stroke-width="2" fill="none"/>
<path d="M645.70,16.60 L615.90,208.80" stroke="#ff0000" stroke-width="2" fill="none"/>
<circle cx="494.10" cy="222.20" r="4.20" fill="#0000ff"/>
<circle cx="525.30" cy="214.90" r="4.20" fill="#0000ff"/>
<circle cx="556.60" cy="209.80" r="4.20" fill="#0000ff"/>
<circle cx="588.20" cy="192.30" r="4.20" fill="#0000ff"/>
<circle cx="606.30" cy="177.80" r="4.20" fill="#0000ff"/>
<circle cx="618.60" cy="157.40" r="4.20" fill="#0000ff"/>
<circle cx="625.70" cy="142.30" r="4.20" fill="#0000ff"/>
<circle cx="631.40" cy="116.60" r="4.20" fill="#0000ff"/>
<circle cx="637.50" cy="60.90" r="4.20" fill="#0000ff"/>
<circle cx="644.20" cy="43.40" r="4.20" fill="#0000ff"/>
<circle cx="650.30" cy="36.80" r="4.20" fill="#0000ff"/>
<circle cx="662.30" cy="30.20" r="4.20" fill="#0000ff"/>
<circle cx="681.30" cy="25.70" r="4.20" fill="#0000ff"/>
<circle cx="694.20" cy="23.90" r="4.20" fill="#0000ff"/>
<circle cx="712.60" cy="22.50" r="4.20" fill="#0000ff"/>
<circle cx="744.20" cy="21.40" r="4.20" fill="#0000ff"/>
<circle cx="775.40" cy="20.60" r="4.20" fill="#0000ff"/>
<path d="M661.40,44.40 L648.50,32.09" stroke="#000" stroke-width="1.8"/>
<path d="M643.80,27.60 L651.43,30.46 L647.02,35.09 Z" fill="#000"/>
<path d="M631.00,210.30 L622.51,201.88" stroke="#000" stroke-width="1.8"/>
<path d="M617.90,197.30 L625.48,200.31 L620.97,204.85 Z" fill="#000"/>
<text x="656.5" y="57.1" font-family="'Liberation Sans', sans-serif" font-size="12.3" fill="#000">4.5 MW</text>
<text x="631.8" y="221.8" font-family="'Liberation Sans', sans-serif" font-size="12.3" fill="#000">3.8 MW</text>
<path d="M661.1,168.4 H689.3" stroke="#0000ff" stroke-width="1"/>
<circle cx="675.4" cy="168.4" r="4.20" fill="#0000ff"/>
<path d="M661.1,183.2 H689.3" stroke="#ff0000" stroke-width="2"/>
<text x="692.6" y="172.2" font-family="'Liberation Sans', sans-serif" font-size="12.25" fill="#000">Gaussian beam</text>
<text x="692.6" y="187.1" font-family="'Liberation Sans', sans-serif" font-size="12.25" fill="#000">Fitting lines</text>
</svg>
</div></body></html>
